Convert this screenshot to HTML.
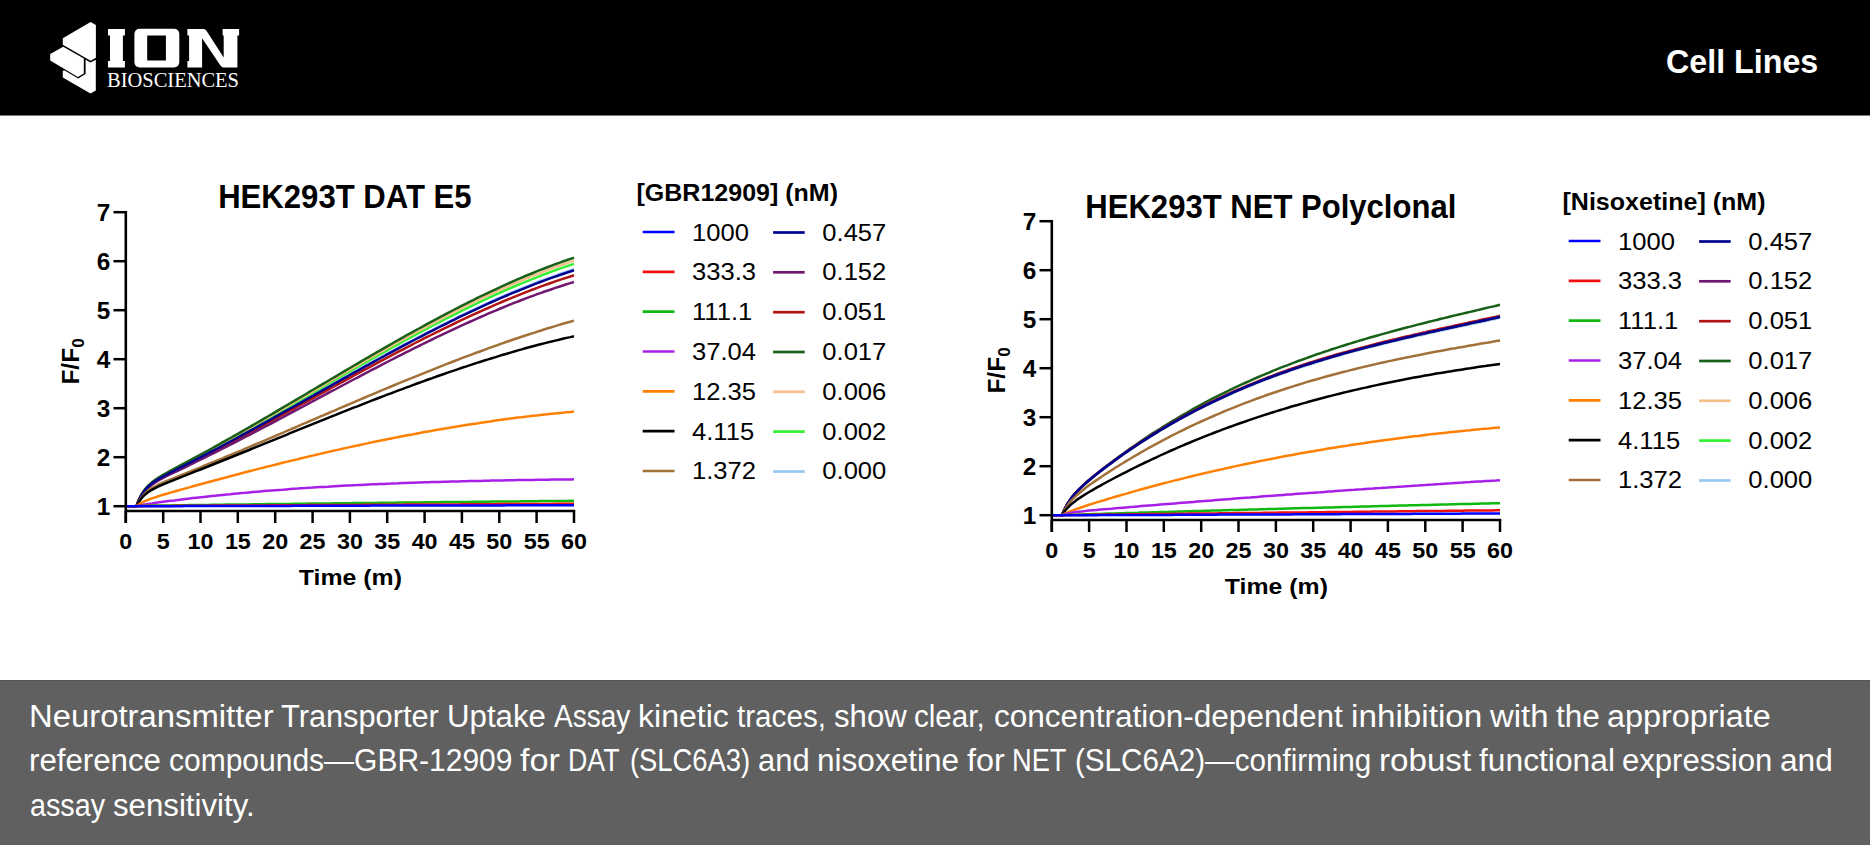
<!DOCTYPE html>
<html><head><meta charset="utf-8"><style>
*{margin:0;padding:0;box-sizing:border-box}
html,body{width:1870px;height:845px;overflow:hidden;background:#fff;font-family:"Liberation Sans",sans-serif}
#hdr{position:absolute;left:0;top:0;width:1870px;height:115px;background:#000}
#hdr2{position:absolute;left:0;top:115px;width:1870px;height:1px;background:#7a7a7a}
#cell{position:absolute;left:1666px;top:41.9px;font-size:33px;font-weight:bold;color:#fff;white-space:nowrap;line-height:40px;transform-origin:0 0;transform:scaleX(0.977)}
#cap{position:absolute;left:0;top:680px;width:1870px;height:165px;background:#606060}
#cap2{position:absolute;left:0;top:680px;width:1870px;height:1px;background:#565656}
.cw{position:absolute;color:#fff;font-size:31px;line-height:36px;white-space:nowrap;transform-origin:0 0}
svg text{font-family:"Liberation Sans",sans-serif}
</style></head><body>
<div id="hdr"></div><div id="hdr2"></div>
<svg width="260" height="115" viewBox="0 0 260 115" style="position:absolute;left:0;top:0">
<g fill="#fff">
<polygon points="90.6,22.0 95.9,25.0 95.9,57.8 90.6,60.8 62.8,44.7 62.8,38.3"/>
<polygon points="63.2,46.8 83.8,58.5 83.8,73.6 77.9,77.0 50.2,60.4 50.2,53.9"/>
<polygon points="62.8,70.8 62.8,77.6 90.5,93.6 95.8,90.5 95.8,59.8 90.5,62.4 85.6,59.8 85.6,73.9 78.2,78.4 64.7,70.4"/>
<path d="M108 29H124.9V35.6H122.9V60.9H124.9V67.5H108V60.9H110V35.6H108Z"/>
<path fill-rule="evenodd" d="M140.1 28.8H173.6Q179.3 28.8 179.3 34.5V61.8Q179.3 67.5 173.6 67.5H140.1Q134.4 67.5 134.4 61.8V34.5Q134.4 28.8 140.1 28.8ZM147.2 35.6V60.6H165.9V35.6Z"/>
<path d="M187.4 29.1H203.9Q205.3 29.1 206.3 30.6L223.7 57.5V35.6H222.6V29.1H239.1V35.6H237.4V67.4H223.2Q221.6 67.4 220.4 65.6L202.1 38.2V60.9H202.1V67.4H187.4V60.9H189.1V35.6H187.4Z"/>
</g>
<text x="107" y="87.3" style="font-family:'Liberation Serif',serif" font-size="20.7" textLength="132" lengthAdjust="spacingAndGlyphs" fill="#fff">BIOSCIENCES</text>
</svg>
<div id="cell">Cell Lines</div>
<svg width="1870" height="845" viewBox="0 0 1870 845" style="position:absolute;left:0;top:0">
<path d="M125.8 506.2L136.4 506.2L136.8 505.2L137.5 503.2L138.3 501.4L139.0 499.7L139.8 498.2L140.5 496.8L141.3 495.5L142.0 494.2L142.8 493.1L143.5 492.0L144.3 491.0L145.0 490.1L145.7 489.2L146.5 488.4L147.2 487.6L148.0 486.8L148.2 486.6L151.9 483.4L155.7 480.8L159.4 478.5L163.2 476.3L166.9 474.3L170.6 472.4L174.4 470.5L178.1 468.6L181.8 466.7L185.6 464.8L189.3 462.9L193.0 460.9L196.8 459.0L200.5 457.1L204.2 455.1L208.0 453.2L211.7 451.2L215.4 449.2L219.2 447.2L222.9 445.2L226.6 443.2L230.4 441.2L234.1 439.2L237.8 437.2L241.6 435.1L245.3 433.1L249.1 431.0L252.8 429.0L256.5 426.9L260.3 424.8L264.0 422.8L267.7 420.7L271.5 418.6L275.2 416.5L278.9 414.4L282.7 412.3L286.4 410.2L290.1 408.1L293.9 406.0L297.6 403.9L301.3 401.8L305.1 399.7L308.8 397.6L312.6 395.5L316.3 393.4L320.0 391.3L323.8 389.2L327.5 387.1L331.2 385.0L335.0 382.9L338.7 380.8L342.4 378.7L346.2 376.6L349.9 374.5L353.6 372.4L357.4 370.3L361.1 368.2L364.8 366.1L368.6 364.1L372.3 362.0L376.0 359.9L379.8 357.9L383.5 355.8L387.2 353.8L391.0 351.8L394.7 349.8L398.5 347.7L402.2 345.7L405.9 343.7L409.7 341.8L413.4 339.8L417.1 337.8L420.9 335.9L424.6 333.9L428.3 332.0L432.1 330.0L435.8 328.1L439.5 326.2L443.3 324.4L447.0 322.5L450.7 320.6L454.5 318.8L458.2 316.9L461.9 315.1L465.7 313.3L469.4 311.5L473.2 309.8L476.9 308.0L480.6 306.3L484.4 304.6L488.1 302.9L491.8 301.2L495.6 299.5L499.3 297.9L503.0 296.2L506.8 294.6L510.5 293.0L514.2 291.5L518.0 289.9L521.7 288.4L525.4 286.9L529.2 285.4L532.9 283.9L536.6 282.5L540.4 281.0L544.1 279.6L547.9 278.3L551.6 276.9L555.3 275.6L559.1 274.3L562.8 273.0L566.5 271.8L570.3 270.5L574.0 269.3" stroke="#99c8f5" stroke-width="2.5" fill="none" stroke-linejoin="round"/>
<path d="M125.8 506.2L136.4 506.2L136.8 505.1L137.5 503.1L138.3 501.3L139.0 499.6L139.8 498.0L140.5 496.6L141.3 495.2L142.0 494.0L142.8 492.8L143.5 491.7L144.3 490.7L145.0 489.7L145.7 488.8L146.5 488.0L147.2 487.2L148.0 486.4L148.2 486.2L151.9 482.9L155.7 480.2L159.4 477.8L163.2 475.7L166.9 473.6L170.6 471.6L174.4 469.6L178.1 467.7L181.8 465.8L185.6 463.8L189.3 461.9L193.0 459.9L196.8 457.9L200.5 455.9L204.2 454.0L208.0 451.9L211.7 449.9L215.4 447.9L219.2 445.9L222.9 443.8L226.6 441.8L230.4 439.7L234.1 437.7L237.8 435.6L241.6 433.5L245.3 431.4L249.1 429.3L252.8 427.2L256.5 425.1L260.3 423.0L264.0 420.8L267.7 418.7L271.5 416.6L275.2 414.5L278.9 412.3L282.7 410.2L286.4 408.0L290.1 405.9L293.9 403.7L297.6 401.6L301.3 399.4L305.1 397.3L308.8 395.1L312.6 392.9L316.3 390.8L320.0 388.6L323.8 386.5L327.5 384.3L331.2 382.2L335.0 380.0L338.7 377.9L342.4 375.7L346.2 373.6L349.9 371.4L353.6 369.3L357.4 367.2L361.1 365.0L364.8 362.9L368.6 360.8L372.3 358.7L376.0 356.6L379.8 354.5L383.5 352.4L387.2 350.3L391.0 348.2L394.7 346.1L398.5 344.1L402.2 342.0L405.9 340.0L409.7 338.0L413.4 335.9L417.1 333.9L420.9 331.9L424.6 329.9L428.3 328.0L432.1 326.0L435.8 324.0L439.5 322.1L443.3 320.2L447.0 318.2L450.7 316.3L454.5 314.5L458.2 312.6L461.9 310.7L465.7 308.9L469.4 307.1L473.2 305.2L476.9 303.4L480.6 301.7L484.4 299.9L488.1 298.2L491.8 296.4L495.6 294.7L499.3 293.1L503.0 291.4L506.8 289.7L510.5 288.1L514.2 286.5L518.0 284.9L521.7 283.3L525.4 281.8L529.2 280.3L532.9 278.8L536.6 277.3L540.4 275.9L544.1 274.4L547.9 273.0L551.6 271.6L555.3 270.3L559.1 268.9L562.8 267.6L566.5 266.4L570.3 265.1L574.0 263.9" stroke="#33f033" stroke-width="2.5" fill="none" stroke-linejoin="round"/>
<path d="M125.8 506.2L136.4 506.2L136.8 505.1L137.5 503.1L138.3 501.2L139.0 499.5L139.8 497.9L140.5 496.4L141.3 495.1L142.0 493.8L142.8 492.6L143.5 491.5L144.3 490.5L145.0 489.5L145.7 488.6L146.5 487.7L147.2 486.9L148.0 486.1L148.2 485.9L151.9 482.6L155.7 479.8L159.4 477.4L163.2 475.2L166.9 473.2L170.6 471.1L174.4 469.2L178.1 467.2L181.8 465.2L185.6 463.2L189.3 461.3L193.0 459.3L196.8 457.3L200.5 455.3L204.2 453.3L208.0 451.2L211.7 449.2L215.4 447.1L219.2 445.1L222.9 443.0L226.6 440.9L230.4 438.8L234.1 436.7L237.8 434.6L241.6 432.5L245.3 430.4L249.1 428.3L252.8 426.1L256.5 424.0L260.3 421.9L264.0 419.7L267.7 417.6L271.5 415.4L275.2 413.2L278.9 411.1L282.7 408.9L286.4 406.7L290.1 404.5L293.9 402.4L297.6 400.2L301.3 398.0L305.1 395.8L308.8 393.6L312.6 391.4L316.3 389.2L320.0 387.1L323.8 384.9L327.5 382.7L331.2 380.5L335.0 378.3L338.7 376.1L342.4 374.0L346.2 371.8L349.9 369.6L353.6 367.5L357.4 365.3L361.1 363.1L364.8 361.0L368.6 358.8L372.3 356.7L376.0 354.6L379.8 352.4L383.5 350.3L387.2 348.2L391.0 346.1L394.7 344.0L398.5 341.9L402.2 339.8L405.9 337.8L409.7 335.7L413.4 333.7L417.1 331.6L420.9 329.6L424.6 327.6L428.3 325.6L432.1 323.6L435.8 321.6L439.5 319.6L443.3 317.7L447.0 315.7L450.7 313.8L454.5 311.9L458.2 310.0L461.9 308.1L465.7 306.2L469.4 304.4L473.2 302.6L476.9 300.7L480.6 298.9L484.4 297.2L488.1 295.4L491.8 293.6L495.6 291.9L499.3 290.2L503.0 288.5L506.8 286.8L510.5 285.2L514.2 283.6L518.0 282.0L521.7 280.4L525.4 278.8L529.2 277.3L532.9 275.7L536.6 274.3L540.4 272.8L544.1 271.3L547.9 269.9L551.6 268.5L555.3 267.1L559.1 265.8L562.8 264.5L566.5 263.2L570.3 261.9L574.0 260.6" stroke="#f5c08a" stroke-width="2.5" fill="none" stroke-linejoin="round"/>
<path d="M125.8 506.2L136.4 506.2L136.8 505.1L137.5 503.1L138.3 501.2L139.0 499.4L139.8 497.8L140.5 496.3L141.3 494.9L142.0 493.7L142.8 492.5L143.5 491.3L144.3 490.3L145.0 489.3L145.7 488.4L146.5 487.5L147.2 486.7L148.0 485.9L148.2 485.7L151.9 482.3L155.7 479.5L159.4 477.1L163.2 474.9L166.9 472.8L170.6 470.7L174.4 468.7L178.1 466.7L181.8 464.7L185.6 462.7L189.3 460.7L193.0 458.7L196.8 456.7L200.5 454.7L204.2 452.6L208.0 450.6L211.7 448.5L215.4 446.4L219.2 444.3L222.9 442.2L226.6 440.1L230.4 438.0L234.1 435.9L237.8 433.8L241.6 431.6L245.3 429.5L249.1 427.3L252.8 425.2L256.5 423.0L260.3 420.8L264.0 418.7L267.7 416.5L271.5 414.3L275.2 412.1L278.9 409.9L282.7 407.7L286.4 405.5L290.1 403.3L293.9 401.1L297.6 398.9L301.3 396.7L305.1 394.5L308.8 392.2L312.6 390.0L316.3 387.8L320.0 385.6L323.8 383.4L327.5 381.2L331.2 379.0L335.0 376.8L338.7 374.6L342.4 372.4L346.2 370.2L349.9 368.0L353.6 365.8L357.4 363.6L361.1 361.4L364.8 359.2L368.6 357.1L372.3 354.9L376.0 352.7L379.8 350.6L383.5 348.4L387.2 346.3L391.0 344.2L394.7 342.0L398.5 339.9L402.2 337.8L405.9 335.7L409.7 333.6L413.4 331.6L417.1 329.5L420.9 327.5L424.6 325.4L428.3 323.4L432.1 321.4L435.8 319.4L439.5 317.4L443.3 315.4L447.0 313.4L450.7 311.5L454.5 309.5L458.2 307.6L461.9 305.7L465.7 303.8L469.4 301.9L473.2 300.1L476.9 298.2L480.6 296.4L484.4 294.6L488.1 292.8L491.8 291.1L495.6 289.3L499.3 287.6L503.0 285.9L506.8 284.2L510.5 282.5L514.2 280.9L518.0 279.2L521.7 277.6L525.4 276.0L529.2 274.5L532.9 273.0L536.6 271.4L540.4 269.9L544.1 268.5L547.9 267.0L551.6 265.6L555.3 264.2L559.1 262.9L562.8 261.5L566.5 260.2L570.3 258.9L574.0 257.7" stroke="#186018" stroke-width="2.5" fill="none" stroke-linejoin="round"/>
<path d="M125.8 506.2L136.4 506.2L136.8 505.2L137.5 503.3L138.3 501.5L139.0 499.9L139.8 498.4L140.5 497.0L141.3 495.7L142.0 494.5L142.8 493.4L143.5 492.4L144.3 491.4L145.0 490.5L145.7 489.6L146.5 488.8L147.2 488.1L148.0 487.3L148.2 487.1L151.9 484.0L155.7 481.4L159.4 479.2L163.2 477.1L166.9 475.1L170.6 473.2L174.4 471.4L178.1 469.5L181.8 467.7L185.6 465.8L189.3 463.9L193.0 462.1L196.8 460.2L200.5 458.3L204.2 456.4L208.0 454.5L211.7 452.6L215.4 450.7L219.2 448.7L222.9 446.8L226.6 444.8L230.4 442.9L234.1 440.9L237.8 438.9L241.6 436.9L245.3 434.9L249.1 432.9L252.8 430.9L256.5 428.9L260.3 426.9L264.0 424.9L267.7 422.8L271.5 420.8L275.2 418.8L278.9 416.7L282.7 414.7L286.4 412.7L290.1 410.6L293.9 408.6L297.6 406.5L301.3 404.4L305.1 402.4L308.8 400.3L312.6 398.3L316.3 396.2L320.0 394.2L323.8 392.1L327.5 390.1L331.2 388.0L335.0 386.0L338.7 383.9L342.4 381.9L346.2 379.8L349.9 377.8L353.6 375.7L357.4 373.7L361.1 371.7L364.8 369.7L368.6 367.6L372.3 365.6L376.0 363.6L379.8 361.6L383.5 359.6L387.2 357.6L391.0 355.7L394.7 353.7L398.5 351.7L402.2 349.8L405.9 347.8L409.7 345.9L413.4 344.0L417.1 342.0L420.9 340.1L424.6 338.2L428.3 336.4L432.1 334.5L435.8 332.6L439.5 330.8L443.3 328.9L447.0 327.1L450.7 325.3L454.5 323.5L458.2 321.7L461.9 319.9L465.7 318.2L469.4 316.4L473.2 314.7L476.9 313.0L480.6 311.3L484.4 309.6L488.1 308.0L491.8 306.3L495.6 304.7L499.3 303.1L503.0 301.5L506.8 299.9L510.5 298.4L514.2 296.9L518.0 295.4L521.7 293.9L525.4 292.4L529.2 290.9L532.9 289.5L536.6 288.1L540.4 286.7L544.1 285.4L547.9 284.0L551.6 282.7L555.3 281.4L559.1 280.1L562.8 278.9L566.5 277.7L570.3 276.5L574.0 275.3" stroke="#b01515" stroke-width="2.5" fill="none" stroke-linejoin="round"/>
<path d="M125.8 506.2L136.4 506.2L136.8 505.2L137.5 503.4L138.3 501.7L139.0 500.1L139.8 498.6L140.5 497.3L141.3 496.0L142.0 494.9L142.8 493.8L143.5 492.8L144.3 491.8L145.0 490.9L145.7 490.1L146.5 489.3L147.2 488.6L148.0 487.9L148.2 487.7L151.9 484.6L155.7 482.1L159.4 479.9L163.2 477.9L166.9 476.0L170.6 474.2L174.4 472.4L178.1 470.6L181.8 468.8L185.6 467.0L189.3 465.2L193.0 463.4L196.8 461.5L200.5 459.7L204.2 457.9L208.0 456.0L211.7 454.1L215.4 452.3L219.2 450.4L222.9 448.5L226.6 446.6L230.4 444.7L234.1 442.8L237.8 440.9L241.6 438.9L245.3 437.0L249.1 435.1L252.8 433.1L256.5 431.2L260.3 429.2L264.0 427.2L267.7 425.3L271.5 423.3L275.2 421.3L278.9 419.3L282.7 417.4L286.4 415.4L290.1 413.4L293.9 411.4L297.6 409.4L301.3 407.4L305.1 405.4L308.8 403.4L312.6 401.4L316.3 399.4L320.0 397.4L323.8 395.4L327.5 393.4L331.2 391.4L335.0 389.5L338.7 387.5L342.4 385.5L346.2 383.5L349.9 381.5L353.6 379.5L357.4 377.6L361.1 375.6L364.8 373.6L368.6 371.7L372.3 369.7L376.0 367.8L379.8 365.8L383.5 363.9L387.2 362.0L391.0 360.0L394.7 358.1L398.5 356.2L402.2 354.3L405.9 352.4L409.7 350.6L413.4 348.7L417.1 346.8L420.9 345.0L424.6 343.1L428.3 341.3L432.1 339.5L435.8 337.7L439.5 335.9L443.3 334.1L447.0 332.3L450.7 330.6L454.5 328.8L458.2 327.1L461.9 325.4L465.7 323.7L469.4 322.0L473.2 320.3L476.9 318.6L480.6 317.0L484.4 315.4L488.1 313.7L491.8 312.1L495.6 310.6L499.3 309.0L503.0 307.5L506.8 305.9L510.5 304.4L514.2 302.9L518.0 301.5L521.7 300.0L525.4 298.6L529.2 297.2L532.9 295.8L536.6 294.4L540.4 293.1L544.1 291.8L547.9 290.5L551.6 289.2L555.3 287.9L559.1 286.7L562.8 285.5L566.5 284.3L570.3 283.1L574.0 282.0" stroke="#701870" stroke-width="2.5" fill="none" stroke-linejoin="round"/>
<path d="M125.8 506.2L136.4 506.2L136.8 505.2L137.5 503.2L138.3 501.4L139.0 499.8L139.8 498.2L140.5 496.8L141.3 495.5L142.0 494.3L142.8 493.2L143.5 492.1L144.3 491.1L145.0 490.2L145.7 489.3L146.5 488.4L147.2 487.7L148.0 486.9L148.2 486.7L151.9 483.5L155.7 480.9L159.4 478.6L163.2 476.5L166.9 474.5L170.6 472.5L174.4 470.6L178.1 468.7L181.8 466.8L185.6 464.9L189.3 463.0L193.0 461.1L196.8 459.2L200.5 457.3L204.2 455.3L208.0 453.4L211.7 451.4L215.4 449.5L219.2 447.5L222.9 445.5L226.6 443.5L230.4 441.5L234.1 439.5L237.8 437.5L241.6 435.4L245.3 433.4L249.1 431.4L252.8 429.3L256.5 427.3L260.3 425.2L264.0 423.1L267.7 421.1L271.5 419.0L275.2 416.9L278.9 414.8L282.7 412.7L286.4 410.6L290.1 408.5L293.9 406.5L297.6 404.4L301.3 402.3L305.1 400.2L308.8 398.1L312.6 396.0L316.3 393.9L320.0 391.8L323.8 389.7L327.5 387.6L331.2 385.5L335.0 383.4L338.7 381.3L342.4 379.2L346.2 377.1L349.9 375.0L353.6 372.9L357.4 370.9L361.1 368.8L364.8 366.7L368.6 364.7L372.3 362.6L376.0 360.6L379.8 358.5L383.5 356.5L387.2 354.4L391.0 352.4L394.7 350.4L398.5 348.4L402.2 346.4L405.9 344.4L409.7 342.4L413.4 340.5L417.1 338.5L420.9 336.6L424.6 334.6L428.3 332.7L432.1 330.8L435.8 328.9L439.5 327.0L443.3 325.1L447.0 323.3L450.7 321.4L454.5 319.6L458.2 317.7L461.9 315.9L465.7 314.1L469.4 312.4L473.2 310.6L476.9 308.9L480.6 307.1L484.4 305.4L488.1 303.7L491.8 302.0L495.6 300.4L499.3 298.7L503.0 297.1L506.8 295.5L510.5 293.9L514.2 292.4L518.0 290.8L521.7 289.3L525.4 287.8L529.2 286.3L532.9 284.8L536.6 283.4L540.4 282.0L544.1 280.6L547.9 279.2L551.6 277.9L555.3 276.6L559.1 275.3L562.8 274.0L566.5 272.7L570.3 271.5L574.0 270.3" stroke="#000090" stroke-width="2.5" fill="none" stroke-linejoin="round"/>
<path d="M125.8 506.2L136.4 506.2L136.8 505.4L137.5 503.8L138.3 502.4L139.0 501.1L139.8 499.9L140.5 498.7L141.3 497.7L142.0 496.7L142.8 495.8L143.5 494.9L144.3 494.1L145.0 493.4L145.7 492.7L146.5 492.0L147.2 491.4L148.0 490.8L148.2 490.6L151.9 488.1L155.7 486.0L159.4 484.1L163.2 482.4L166.9 480.8L170.6 479.3L174.4 477.8L178.1 476.3L181.8 474.8L185.6 473.3L189.3 471.8L193.0 470.3L196.8 468.8L200.5 467.3L204.2 465.7L208.0 464.2L211.7 462.7L215.4 461.2L219.2 459.6L222.9 458.1L226.6 456.5L230.4 455.0L234.1 453.4L237.8 451.8L241.6 450.3L245.3 448.7L249.1 447.1L252.8 445.5L256.5 443.9L260.3 442.4L264.0 440.8L267.7 439.2L271.5 437.6L275.2 436.0L278.9 434.4L282.7 432.8L286.4 431.2L290.1 429.6L293.9 428.0L297.6 426.4L301.3 424.7L305.1 423.1L308.8 421.5L312.6 419.9L316.3 418.3L320.0 416.7L323.8 415.1L327.5 413.5L331.2 411.9L335.0 410.3L338.7 408.7L342.4 407.1L346.2 405.5L349.9 403.9L353.6 402.3L357.4 400.7L361.1 399.1L364.8 397.5L368.6 395.9L372.3 394.4L376.0 392.8L379.8 391.2L383.5 389.7L387.2 388.1L391.0 386.5L394.7 385.0L398.5 383.4L402.2 381.9L405.9 380.4L409.7 378.8L413.4 377.3L417.1 375.8L420.9 374.3L424.6 372.8L428.3 371.3L432.1 369.8L435.8 368.3L439.5 366.8L443.3 365.4L447.0 363.9L450.7 362.5L454.5 361.0L458.2 359.6L461.9 358.2L465.7 356.7L469.4 355.3L473.2 353.9L476.9 352.5L480.6 351.2L484.4 349.8L488.1 348.4L491.8 347.1L495.6 345.8L499.3 344.4L503.0 343.1L506.8 341.8L510.5 340.5L514.2 339.3L518.0 338.0L521.7 336.7L525.4 335.5L529.2 334.3L532.9 333.1L536.6 331.9L540.4 330.7L544.1 329.5L547.9 328.3L551.6 327.2L555.3 326.1L559.1 324.9L562.8 323.8L566.5 322.8L570.3 321.7L574.0 320.6" stroke="#a2713a" stroke-width="2.5" fill="none" stroke-linejoin="round"/>
<path d="M125.8 506.2L136.4 506.2L136.8 505.5L137.5 504.1L138.3 502.8L139.0 501.6L139.8 500.6L140.5 499.5L141.3 498.6L142.0 497.7L142.8 496.9L143.5 496.1L144.3 495.4L145.0 494.7L145.7 494.1L146.5 493.4L147.2 492.9L148.0 492.3L148.2 492.2L151.9 489.8L155.7 487.8L159.4 486.0L163.2 484.3L166.9 482.8L170.6 481.3L174.4 479.8L178.1 478.3L181.8 476.8L185.6 475.4L189.3 473.9L193.0 472.4L196.8 470.9L200.5 469.5L204.2 468.0L208.0 466.5L211.7 465.0L215.4 463.5L219.2 462.0L222.9 460.5L226.6 459.0L230.4 457.5L234.1 456.0L237.8 454.5L241.6 453.0L245.3 451.5L249.1 450.0L252.8 448.4L256.5 446.9L260.3 445.4L264.0 443.9L267.7 442.4L271.5 440.8L275.2 439.3L278.9 437.8L282.7 436.3L286.4 434.8L290.1 433.2L293.9 431.7L297.6 430.2L301.3 428.7L305.1 427.2L308.8 425.7L312.6 424.1L316.3 422.6L320.0 421.1L323.8 419.6L327.5 418.1L331.2 416.6L335.0 415.1L338.7 413.6L342.4 412.2L346.2 410.7L349.9 409.2L353.6 407.7L357.4 406.3L361.1 404.8L364.8 403.3L368.6 401.9L372.3 400.4L376.0 399.0L379.8 397.5L383.5 396.1L387.2 394.7L391.0 393.3L394.7 391.9L398.5 390.4L402.2 389.1L405.9 387.7L409.7 386.3L413.4 384.9L417.1 383.5L420.9 382.2L424.6 380.8L428.3 379.5L432.1 378.2L435.8 376.8L439.5 375.5L443.3 374.2L447.0 372.9L450.7 371.6L454.5 370.4L458.2 369.1L461.9 367.8L465.7 366.6L469.4 365.4L473.2 364.1L476.9 362.9L480.6 361.7L484.4 360.5L488.1 359.4L491.8 358.2L495.6 357.1L499.3 355.9L503.0 354.8L506.8 353.7L510.5 352.6L514.2 351.5L518.0 350.4L521.7 349.4L525.4 348.3L529.2 347.3L532.9 346.3L536.6 345.3L540.4 344.3L544.1 343.4L547.9 342.4L551.6 341.5L555.3 340.6L559.1 339.7L562.8 338.8L566.5 337.9L570.3 337.1L574.0 336.2" stroke="#000000" stroke-width="2.5" fill="none" stroke-linejoin="round"/>
<path d="M125.8 506.2L136.4 506.2L136.8 505.9L137.5 505.3L138.3 504.8L139.0 504.3L139.8 503.8L140.5 503.4L141.3 503.0L142.0 502.5L142.8 502.2L143.5 501.8L144.3 501.4L145.0 501.1L145.7 500.8L146.5 500.4L147.2 500.1L148.0 499.8L148.2 499.7L151.9 498.4L155.7 497.1L159.4 495.9L163.2 494.8L166.9 493.7L170.6 492.6L174.4 491.5L178.1 490.5L181.8 489.4L185.6 488.4L189.3 487.4L193.0 486.3L196.8 485.3L200.5 484.3L204.2 483.2L208.0 482.2L211.7 481.2L215.4 480.2L219.2 479.2L222.9 478.2L226.6 477.2L230.4 476.2L234.1 475.2L237.8 474.2L241.6 473.3L245.3 472.3L249.1 471.3L252.8 470.4L256.5 469.4L260.3 468.4L264.0 467.5L267.7 466.5L271.5 465.6L275.2 464.7L278.9 463.7L282.7 462.8L286.4 461.9L290.1 461.0L293.9 460.1L297.6 459.2L301.3 458.3L305.1 457.4L308.8 456.5L312.6 455.6L316.3 454.7L320.0 453.9L323.8 453.0L327.5 452.1L331.2 451.3L335.0 450.4L338.7 449.6L342.4 448.8L346.2 447.9L349.9 447.1L353.6 446.3L357.4 445.5L361.1 444.7L364.8 443.9L368.6 443.1L372.3 442.3L376.0 441.6L379.8 440.8L383.5 440.0L387.2 439.3L391.0 438.5L394.7 437.8L398.5 437.0L402.2 436.3L405.9 435.6L409.7 434.9L413.4 434.2L417.1 433.5L420.9 432.8L424.6 432.1L428.3 431.4L432.1 430.8L435.8 430.1L439.5 429.5L443.3 428.8L447.0 428.2L450.7 427.5L454.5 426.9L458.2 426.3L461.9 425.7L465.7 425.1L469.4 424.5L473.2 423.9L476.9 423.4L480.6 422.8L484.4 422.3L488.1 421.7L491.8 421.2L495.6 420.6L499.3 420.1L503.0 419.6L506.8 419.1L510.5 418.6L514.2 418.1L518.0 417.6L521.7 417.2L525.4 416.7L529.2 416.3L532.9 415.8L536.6 415.4L540.4 415.0L544.1 414.6L547.9 414.2L551.6 413.8L555.3 413.4L559.1 413.0L562.8 412.7L566.5 412.3L570.3 412.0L574.0 411.6" stroke="#ff8000" stroke-width="2.5" fill="none" stroke-linejoin="round"/>
<path d="M125.8 506.2L136.4 506.2L136.8 506.1L137.5 505.9L138.3 505.8L139.0 505.6L139.8 505.5L140.5 505.3L141.3 505.2L142.0 505.0L142.8 504.9L143.5 504.7L144.3 504.6L145.0 504.5L145.7 504.4L146.5 504.2L147.2 504.1L148.0 504.0L148.2 503.9L151.9 503.4L155.7 502.8L159.4 502.3L163.2 501.8L166.9 501.3L170.6 500.8L174.4 500.4L178.1 499.9L181.8 499.4L185.6 499.0L189.3 498.6L193.0 498.1L196.8 497.7L200.5 497.3L204.2 496.9L208.0 496.5L211.7 496.1L215.4 495.7L219.2 495.3L222.9 494.9L226.6 494.5L230.4 494.2L234.1 493.8L237.8 493.4L241.6 493.1L245.3 492.8L249.1 492.4L252.8 492.1L256.5 491.8L260.3 491.4L264.0 491.1L267.7 490.8L271.5 490.5L275.2 490.2L278.9 489.9L282.7 489.7L286.4 489.4L290.1 489.1L293.9 488.8L297.6 488.6L301.3 488.3L305.1 488.1L308.8 487.8L312.6 487.6L316.3 487.3L320.0 487.1L323.8 486.9L327.5 486.7L331.2 486.4L335.0 486.2L338.7 486.0L342.4 485.8L346.2 485.6L349.9 485.4L353.6 485.2L357.4 485.1L361.1 484.9L364.8 484.7L368.6 484.5L372.3 484.3L376.0 484.2L379.8 484.0L383.5 483.9L387.2 483.7L391.0 483.6L394.7 483.4L398.5 483.3L402.2 483.1L405.9 483.0L409.7 482.8L413.4 482.7L417.1 482.6L420.9 482.5L424.6 482.3L428.3 482.2L432.1 482.1L435.8 482.0L439.5 481.9L443.3 481.8L447.0 481.7L450.7 481.6L454.5 481.5L458.2 481.4L461.9 481.3L465.7 481.2L469.4 481.1L473.2 481.0L476.9 480.9L480.6 480.9L484.4 480.8L488.1 480.7L491.8 480.6L495.6 480.5L499.3 480.5L503.0 480.4L506.8 480.3L510.5 480.3L514.2 480.2L518.0 480.1L521.7 480.1L525.4 480.0L529.2 480.0L532.9 479.9L536.6 479.8L540.4 479.8L544.1 479.7L547.9 479.7L551.6 479.6L555.3 479.6L559.1 479.5L562.8 479.5L566.5 479.4L570.3 479.4L574.0 479.3" stroke="#a820e8" stroke-width="2.5" fill="none" stroke-linejoin="round"/>
<path d="M125.8 506.2L136.4 506.2L136.8 506.2L137.5 506.1L138.3 506.1L139.0 506.0L139.8 506.0L140.5 506.0L141.3 505.9L142.0 505.9L142.8 505.9L143.5 505.9L144.3 505.8L145.0 505.8L145.7 505.8L146.5 505.8L147.2 505.8L148.0 505.7L148.2 505.7L151.9 505.6L155.7 505.6L159.4 505.5L163.2 505.5L166.9 505.4L170.6 505.4L174.4 505.3L178.1 505.3L181.8 505.2L185.6 505.2L189.3 505.1L193.0 505.1L196.8 505.0L200.5 505.0L204.2 504.9L208.0 504.9L211.7 504.8L215.4 504.8L219.2 504.7L222.9 504.7L226.6 504.6L230.4 504.6L234.1 504.5L237.8 504.5L241.6 504.5L245.3 504.4L249.1 504.4L252.8 504.3L256.5 504.3L260.3 504.2L264.0 504.2L267.7 504.1L271.5 504.1L275.2 504.0L278.9 504.0L282.7 504.0L286.4 503.9L290.1 503.9L293.9 503.8L297.6 503.8L301.3 503.7L305.1 503.7L308.8 503.6L312.6 503.6L316.3 503.6L320.0 503.5L323.8 503.5L327.5 503.4L331.2 503.4L335.0 503.3L338.7 503.3L342.4 503.3L346.2 503.2L349.9 503.2L353.6 503.1L357.4 503.1L361.1 503.0L364.8 503.0L368.6 503.0L372.3 502.9L376.0 502.9L379.8 502.8L383.5 502.8L387.2 502.7L391.0 502.7L394.7 502.7L398.5 502.6L402.2 502.6L405.9 502.5L409.7 502.5L413.4 502.5L417.1 502.4L420.9 502.4L424.6 502.3L428.3 502.3L432.1 502.3L435.8 502.2L439.5 502.2L443.3 502.1L447.0 502.1L450.7 502.1L454.5 502.0L458.2 502.0L461.9 501.9L465.7 501.9L469.4 501.9L473.2 501.8L476.9 501.8L480.6 501.7L484.4 501.7L488.1 501.7L491.8 501.6L495.6 501.6L499.3 501.5L503.0 501.5L506.8 501.5L510.5 501.4L514.2 501.4L518.0 501.4L521.7 501.3L525.4 501.3L529.2 501.2L532.9 501.2L536.6 501.2L540.4 501.1L544.1 501.1L547.9 501.1L551.6 501.0L555.3 501.0L559.1 500.9L562.8 500.9L566.5 500.9L570.3 500.8L574.0 500.8" stroke="#10b810" stroke-width="2.5" fill="none" stroke-linejoin="round"/>
<path d="M125.8 506.2L136.4 506.2L136.8 506.2L137.5 506.2L138.3 506.2L139.0 506.1L139.8 506.1L140.5 506.1L141.3 506.1L142.0 506.1L142.8 506.1L143.5 506.1L144.3 506.1L145.0 506.0L145.7 506.0L146.5 506.0L147.2 506.0L148.0 506.0L148.2 506.0L151.9 506.0L155.7 506.0L159.4 505.9L163.2 505.9L166.9 505.9L170.6 505.9L174.4 505.8L178.1 505.8L181.8 505.8L185.6 505.8L189.3 505.8L193.0 505.7L196.8 505.7L200.5 505.7L204.2 505.7L208.0 505.7L211.7 505.6L215.4 505.6L219.2 505.6L222.9 505.6L226.6 505.6L230.4 505.6L234.1 505.5L237.8 505.5L241.6 505.5L245.3 505.5L249.1 505.5L252.8 505.4L256.5 505.4L260.3 505.4L264.0 505.4L267.7 505.4L271.5 505.3L275.2 505.3L278.9 505.3L282.7 505.3L286.4 505.3L290.1 505.2L293.9 505.2L297.6 505.2L301.3 505.2L305.1 505.2L308.8 505.1L312.6 505.1L316.3 505.1L320.0 505.1L323.8 505.1L327.5 505.0L331.2 505.0L335.0 505.0L338.7 505.0L342.4 505.0L346.2 504.9L349.9 504.9L353.6 504.9L357.4 504.9L361.1 504.9L364.8 504.8L368.6 504.8L372.3 504.8L376.0 504.8L379.8 504.8L383.5 504.8L387.2 504.7L391.0 504.7L394.7 504.7L398.5 504.7L402.2 504.7L405.9 504.6L409.7 504.6L413.4 504.6L417.1 504.6L420.9 504.6L424.6 504.5L428.3 504.5L432.1 504.5L435.8 504.5L439.5 504.5L443.3 504.4L447.0 504.4L450.7 504.4L454.5 504.4L458.2 504.4L461.9 504.3L465.7 504.3L469.4 504.3L473.2 504.3L476.9 504.3L480.6 504.2L484.4 504.2L488.1 504.2L491.8 504.2L495.6 504.2L499.3 504.1L503.0 504.1L506.8 504.1L510.5 504.1L514.2 504.1L518.0 504.0L521.7 504.0L525.4 504.0L529.2 504.0L532.9 504.0L536.6 503.9L540.4 503.9L544.1 503.9L547.9 503.9L551.6 503.9L555.3 503.8L559.1 503.8L562.8 503.8L566.5 503.8L570.3 503.8L574.0 503.7" stroke="#f01010" stroke-width="2.5" fill="none" stroke-linejoin="round"/>
<path d="M125.8 506.2L136.4 506.2L136.8 506.2L137.5 506.2L138.3 506.2L139.0 506.2L139.8 506.2L140.5 506.2L141.3 506.2L142.0 506.2L142.8 506.2L143.5 506.2L144.3 506.2L145.0 506.2L145.7 506.2L146.5 506.2L147.2 506.2L148.0 506.2L148.2 506.2L151.9 506.2L155.7 506.2L159.4 506.2L163.2 506.2L166.9 506.2L170.6 506.2L174.4 506.2L178.1 506.2L181.8 506.2L185.6 506.1L189.3 506.1L193.0 506.1L196.8 506.1L200.5 506.1L204.2 506.1L208.0 506.1L211.7 506.1L215.4 506.1L219.2 506.0L222.9 506.0L226.6 506.0L230.4 506.0L234.1 506.0L237.8 506.0L241.6 506.0L245.3 506.0L249.1 506.0L252.8 506.0L256.5 505.9L260.3 505.9L264.0 505.9L267.7 505.9L271.5 505.9L275.2 505.9L278.9 505.9L282.7 505.9L286.4 505.9L290.1 505.9L293.9 505.8L297.6 505.8L301.3 505.8L305.1 505.8L308.8 505.8L312.6 505.8L316.3 505.8L320.0 505.8L323.8 505.8L327.5 505.8L331.2 505.7L335.0 505.7L338.7 505.7L342.4 505.7L346.2 505.7L349.9 505.7L353.6 505.7L357.4 505.7L361.1 505.7L364.8 505.7L368.6 505.7L372.3 505.6L376.0 505.6L379.8 505.6L383.5 505.6L387.2 505.6L391.0 505.6L394.7 505.6L398.5 505.6L402.2 505.6L405.9 505.6L409.7 505.6L413.4 505.6L417.1 505.5L420.9 505.5L424.6 505.5L428.3 505.5L432.1 505.5L435.8 505.5L439.5 505.5L443.3 505.5L447.0 505.5L450.7 505.5L454.5 505.5L458.2 505.5L461.9 505.4L465.7 505.4L469.4 505.4L473.2 505.4L476.9 505.4L480.6 505.4L484.4 505.4L488.1 505.4L491.8 505.4L495.6 505.4L499.3 505.4L503.0 505.4L506.8 505.3L510.5 505.3L514.2 505.3L518.0 505.3L521.7 505.3L525.4 505.3L529.2 505.3L532.9 505.3L536.6 505.3L540.4 505.3L544.1 505.3L547.9 505.3L551.6 505.3L555.3 505.3L559.1 505.2L562.8 505.2L566.5 505.2L570.3 505.2L574.0 505.2" stroke="#0000ff" stroke-width="2.5" fill="none" stroke-linejoin="round"/>
<path d="M125.8 211.0V523.0" stroke="#000" stroke-width="2.6" fill="none"/>
<path d="M125.8 511.0H575.2" stroke="#000" stroke-width="2.5" fill="none"/>
<path d="M113.5 506.2H125.8" stroke="#000" stroke-width="2.5"/>
<text transform="translate(110.30 514.50) scale(1.050 1)" font-size="23.20" font-weight="bold" text-anchor="end" fill="#000">1</text>
<path d="M113.5 457.2H125.8" stroke="#000" stroke-width="2.5"/>
<text transform="translate(110.30 465.50) scale(1.050 1)" font-size="23.20" font-weight="bold" text-anchor="end" fill="#000">2</text>
<path d="M113.5 408.2H125.8" stroke="#000" stroke-width="2.5"/>
<text transform="translate(110.30 416.50) scale(1.050 1)" font-size="23.20" font-weight="bold" text-anchor="end" fill="#000">3</text>
<path d="M113.5 359.2H125.8" stroke="#000" stroke-width="2.5"/>
<text transform="translate(110.30 367.50) scale(1.050 1)" font-size="23.20" font-weight="bold" text-anchor="end" fill="#000">4</text>
<path d="M113.5 310.2H125.8" stroke="#000" stroke-width="2.5"/>
<text transform="translate(110.30 318.50) scale(1.050 1)" font-size="23.20" font-weight="bold" text-anchor="end" fill="#000">5</text>
<path d="M113.5 261.2H125.8" stroke="#000" stroke-width="2.5"/>
<text transform="translate(110.30 269.50) scale(1.050 1)" font-size="23.20" font-weight="bold" text-anchor="end" fill="#000">6</text>
<path d="M113.5 212.2H125.8" stroke="#000" stroke-width="2.5"/>
<text transform="translate(110.30 220.50) scale(1.050 1)" font-size="23.20" font-weight="bold" text-anchor="end" fill="#000">7</text>
<path d="M125.8 511.0V523.0" stroke="#000" stroke-width="2.5"/>
<text transform="translate(125.80 548.60) scale(1.080 1)" font-size="21.60" font-weight="bold" text-anchor="middle" fill="#000">0</text>
<path d="M163.2 511.0V523.0" stroke="#000" stroke-width="2.5"/>
<text transform="translate(163.15 548.60) scale(1.080 1)" font-size="21.60" font-weight="bold" text-anchor="middle" fill="#000">5</text>
<path d="M200.5 511.0V523.0" stroke="#000" stroke-width="2.5"/>
<text transform="translate(200.50 548.60) scale(1.080 1)" font-size="21.60" font-weight="bold" text-anchor="middle" fill="#000">10</text>
<path d="M237.8 511.0V523.0" stroke="#000" stroke-width="2.5"/>
<text transform="translate(237.85 548.60) scale(1.080 1)" font-size="21.60" font-weight="bold" text-anchor="middle" fill="#000">15</text>
<path d="M275.2 511.0V523.0" stroke="#000" stroke-width="2.5"/>
<text transform="translate(275.20 548.60) scale(1.080 1)" font-size="21.60" font-weight="bold" text-anchor="middle" fill="#000">20</text>
<path d="M312.6 511.0V523.0" stroke="#000" stroke-width="2.5"/>
<text transform="translate(312.55 548.60) scale(1.080 1)" font-size="21.60" font-weight="bold" text-anchor="middle" fill="#000">25</text>
<path d="M349.9 511.0V523.0" stroke="#000" stroke-width="2.5"/>
<text transform="translate(349.90 548.60) scale(1.080 1)" font-size="21.60" font-weight="bold" text-anchor="middle" fill="#000">30</text>
<path d="M387.2 511.0V523.0" stroke="#000" stroke-width="2.5"/>
<text transform="translate(387.25 548.60) scale(1.080 1)" font-size="21.60" font-weight="bold" text-anchor="middle" fill="#000">35</text>
<path d="M424.6 511.0V523.0" stroke="#000" stroke-width="2.5"/>
<text transform="translate(424.60 548.60) scale(1.080 1)" font-size="21.60" font-weight="bold" text-anchor="middle" fill="#000">40</text>
<path d="M461.9 511.0V523.0" stroke="#000" stroke-width="2.5"/>
<text transform="translate(461.95 548.60) scale(1.080 1)" font-size="21.60" font-weight="bold" text-anchor="middle" fill="#000">45</text>
<path d="M499.3 511.0V523.0" stroke="#000" stroke-width="2.5"/>
<text transform="translate(499.30 548.60) scale(1.080 1)" font-size="21.60" font-weight="bold" text-anchor="middle" fill="#000">50</text>
<path d="M536.6 511.0V523.0" stroke="#000" stroke-width="2.5"/>
<text transform="translate(536.65 548.60) scale(1.080 1)" font-size="21.60" font-weight="bold" text-anchor="middle" fill="#000">55</text>
<path d="M574.0 511.0V523.0" stroke="#000" stroke-width="2.5"/>
<text transform="translate(574.00 548.60) scale(1.080 1)" font-size="21.60" font-weight="bold" text-anchor="middle" fill="#000">60</text>
<text transform="translate(350.40 584.70) scale(1.115 1)" font-size="22.30" font-weight="bold" text-anchor="middle" fill="#000">Time (m)</text>
<text transform="translate(79.4 384.6) rotate(-90)" font-size="24.5" font-weight="bold" fill="#000">F/F<tspan font-size="17" dy="4.8">0</tspan></text>
<text x="344.9" y="207.9" font-size="32.5" font-weight="bold" text-anchor="middle" textLength="253.5" lengthAdjust="spacingAndGlyphs" fill="#000">HEK293T DAT E5</text>
<text x="636.5" y="201.4" font-size="23" font-weight="bold" textLength="201.5" lengthAdjust="spacingAndGlyphs" fill="#000">[GBR12909] (nM)</text>
<path d="M642.7 232.0H674.5" stroke="#0000ff" stroke-width="2.7"/>
<text transform="translate(692.00 240.50) scale(1.080 1)" font-size="23.70" font-weight="normal" text-anchor="start" fill="#000">1000</text>
<path d="M773.1 232.5H804.7" stroke="#000090" stroke-width="2.7"/>
<text transform="translate(822.30 240.50) scale(1.080 1)" font-size="23.70" font-weight="normal" text-anchor="start" fill="#000">0.457</text>
<path d="M642.7 271.8H674.5" stroke="#f01010" stroke-width="2.7"/>
<text transform="translate(692.00 280.33) scale(1.080 1)" font-size="23.70" font-weight="normal" text-anchor="start" fill="#000">333.3</text>
<path d="M773.1 272.3H804.7" stroke="#701870" stroke-width="2.7"/>
<text transform="translate(822.30 280.33) scale(1.080 1)" font-size="23.70" font-weight="normal" text-anchor="start" fill="#000">0.152</text>
<path d="M642.7 311.7H674.5" stroke="#10b810" stroke-width="2.7"/>
<text transform="translate(692.00 320.16) scale(1.080 1)" font-size="23.70" font-weight="normal" text-anchor="start" fill="#000">111.1</text>
<path d="M773.1 312.2H804.7" stroke="#b01515" stroke-width="2.7"/>
<text transform="translate(822.30 320.16) scale(1.080 1)" font-size="23.70" font-weight="normal" text-anchor="start" fill="#000">0.051</text>
<path d="M642.7 351.5H674.5" stroke="#a820e8" stroke-width="2.7"/>
<text transform="translate(692.00 359.99) scale(1.080 1)" font-size="23.70" font-weight="normal" text-anchor="start" fill="#000">37.04</text>
<path d="M773.1 352.0H804.7" stroke="#186018" stroke-width="2.7"/>
<text transform="translate(822.30 359.99) scale(1.080 1)" font-size="23.70" font-weight="normal" text-anchor="start" fill="#000">0.017</text>
<path d="M642.7 391.3H674.5" stroke="#ff8000" stroke-width="2.7"/>
<text transform="translate(692.00 399.82) scale(1.080 1)" font-size="23.70" font-weight="normal" text-anchor="start" fill="#000">12.35</text>
<path d="M773.1 391.8H804.7" stroke="#f5c08a" stroke-width="2.7"/>
<text transform="translate(822.30 399.82) scale(1.080 1)" font-size="23.70" font-weight="normal" text-anchor="start" fill="#000">0.006</text>
<path d="M642.7 431.1H674.5" stroke="#000000" stroke-width="2.7"/>
<text transform="translate(692.00 439.65) scale(1.080 1)" font-size="23.70" font-weight="normal" text-anchor="start" fill="#000">4.115</text>
<path d="M773.1 431.6H804.7" stroke="#33f033" stroke-width="2.7"/>
<text transform="translate(822.30 439.65) scale(1.080 1)" font-size="23.70" font-weight="normal" text-anchor="start" fill="#000">0.002</text>
<path d="M642.7 471.0H674.5" stroke="#a2713a" stroke-width="2.7"/>
<text transform="translate(692.00 479.48) scale(1.080 1)" font-size="23.70" font-weight="normal" text-anchor="start" fill="#000">1.372</text>
<path d="M773.1 471.5H804.7" stroke="#99c8f5" stroke-width="2.7"/>
<text transform="translate(822.30 479.48) scale(1.080 1)" font-size="23.70" font-weight="normal" text-anchor="start" fill="#000">0.000</text>
<path d="M1051.8 515.2L1062.0 515.2L1062.3 514.3L1063.1 512.5L1063.8 510.8L1064.6 509.2L1065.3 507.8L1066.1 506.4L1066.8 505.0L1067.6 503.8L1068.3 502.6L1069.1 501.4L1069.8 500.3L1070.5 499.3L1071.3 498.3L1072.0 497.3L1072.8 496.4L1073.5 495.5L1074.2 494.7L1077.9 490.6L1081.7 486.9L1085.4 483.6L1089.1 480.3L1092.9 477.3L1096.6 474.3L1100.4 471.4L1104.1 468.5L1107.8 465.7L1111.6 463.0L1115.3 460.2L1119.0 457.6L1122.8 454.9L1126.5 452.4L1130.2 449.8L1134.0 447.3L1137.7 444.8L1141.4 442.4L1145.2 440.0L1148.9 437.6L1152.6 435.3L1156.4 433.0L1160.1 430.8L1163.8 428.5L1167.6 426.3L1171.3 424.2L1175.1 422.1L1178.8 420.0L1182.5 417.9L1186.3 415.9L1190.0 413.9L1193.7 412.0L1197.5 410.0L1201.2 408.1L1204.9 406.3L1208.7 404.4L1212.4 402.6L1216.1 400.8L1219.9 399.1L1223.6 397.4L1227.3 395.7L1231.1 394.0L1234.8 392.4L1238.5 390.7L1242.3 389.1L1246.0 387.6L1249.8 386.0L1253.5 384.5L1257.2 383.0L1261.0 381.6L1264.7 380.1L1268.4 378.7L1272.2 377.3L1275.9 375.9L1279.6 374.6L1283.4 373.2L1287.1 371.9L1290.8 370.6L1294.6 369.4L1298.3 368.1L1302.0 366.9L1305.8 365.7L1309.5 364.5L1313.2 363.3L1317.0 362.1L1320.7 361.0L1324.5 359.9L1328.2 358.7L1331.9 357.6L1335.7 356.6L1339.4 355.5L1343.1 354.4L1346.9 353.4L1350.6 352.4L1354.3 351.4L1358.1 350.4L1361.8 349.4L1365.5 348.4L1369.3 347.5L1373.0 346.5L1376.7 345.6L1380.5 344.7L1384.2 343.7L1387.9 342.8L1391.7 341.9L1395.4 341.0L1399.2 340.2L1402.9 339.3L1406.6 338.4L1410.4 337.5L1414.1 336.7L1417.8 335.8L1421.6 335.0L1425.3 334.2L1429.0 333.3L1432.8 332.5L1436.5 331.7L1440.2 330.9L1444.0 330.1L1447.7 329.2L1451.4 328.4L1455.2 327.6L1458.9 326.8L1462.6 326.0L1466.4 325.2L1470.1 324.4L1473.9 323.6L1477.6 322.8L1481.3 322.0L1485.1 321.2L1488.8 320.4L1492.5 319.5L1496.3 318.7L1500.0 317.9" stroke="#99c8f5" stroke-width="2.5" fill="none" stroke-linejoin="round"/>
<path d="M1051.8 515.2L1062.0 515.2L1062.3 514.3L1063.1 512.5L1063.8 510.8L1064.6 509.2L1065.3 507.7L1066.1 506.3L1066.8 505.0L1067.6 503.7L1068.3 502.5L1069.1 501.4L1069.8 500.3L1070.5 499.2L1071.3 498.2L1072.0 497.2L1072.8 496.3L1073.5 495.4L1074.2 494.6L1077.9 490.5L1081.7 486.8L1085.4 483.4L1089.1 480.2L1092.9 477.1L1096.6 474.1L1100.4 471.1L1104.1 468.3L1107.8 465.5L1111.6 462.7L1115.3 460.0L1119.0 457.3L1122.8 454.6L1126.5 452.0L1130.2 449.5L1134.0 447.0L1137.7 444.5L1141.4 442.0L1145.2 439.6L1148.9 437.2L1152.6 434.9L1156.4 432.6L1160.1 430.3L1163.8 428.1L1167.6 425.9L1171.3 423.7L1175.1 421.6L1178.8 419.5L1182.5 417.4L1186.3 415.4L1190.0 413.4L1193.7 411.4L1197.5 409.5L1201.2 407.6L1204.9 405.7L1208.7 403.9L1212.4 402.1L1216.1 400.3L1219.9 398.5L1223.6 396.8L1227.3 395.1L1231.1 393.4L1234.8 391.7L1238.5 390.1L1242.3 388.5L1246.0 386.9L1249.8 385.4L1253.5 383.9L1257.2 382.4L1261.0 380.9L1264.7 379.4L1268.4 378.0L1272.2 376.6L1275.9 375.2L1279.6 373.9L1283.4 372.5L1287.1 371.2L1290.8 369.9L1294.6 368.6L1298.3 367.4L1302.0 366.1L1305.8 364.9L1309.5 363.7L1313.2 362.5L1317.0 361.4L1320.7 360.2L1324.5 359.1L1328.2 358.0L1331.9 356.9L1335.7 355.8L1339.4 354.7L1343.1 353.6L1346.9 352.6L1350.6 351.6L1354.3 350.6L1358.1 349.6L1361.8 348.6L1365.5 347.6L1369.3 346.6L1373.0 345.7L1376.7 344.7L1380.5 343.8L1384.2 342.9L1387.9 342.0L1391.7 341.1L1395.4 340.2L1399.2 339.3L1402.9 338.4L1406.6 337.5L1410.4 336.7L1414.1 335.8L1417.8 334.9L1421.6 334.1L1425.3 333.3L1429.0 332.4L1432.8 331.6L1436.5 330.8L1440.2 329.9L1444.0 329.1L1447.7 328.3L1451.4 327.5L1455.2 326.7L1458.9 325.9L1462.6 325.1L1466.4 324.2L1470.1 323.4L1473.9 322.6L1477.6 321.8L1481.3 321.0L1485.1 320.2L1488.8 319.4L1492.5 318.6L1496.3 317.7L1500.0 316.9" stroke="#33f033" stroke-width="2.5" fill="none" stroke-linejoin="round"/>
<path d="M1051.8 515.2L1062.0 515.2L1062.3 514.3L1063.1 512.5L1063.8 510.8L1064.6 509.2L1065.3 507.7L1066.1 506.3L1066.8 505.0L1067.6 503.7L1068.3 502.5L1069.1 501.4L1069.8 500.3L1070.5 499.2L1071.3 498.2L1072.0 497.2L1072.8 496.3L1073.5 495.4L1074.2 494.6L1077.9 490.5L1081.7 486.8L1085.4 483.4L1089.1 480.2L1092.9 477.1L1096.6 474.1L1100.4 471.1L1104.1 468.3L1107.8 465.5L1111.6 462.7L1115.3 460.0L1119.0 457.3L1122.8 454.6L1126.5 452.0L1130.2 449.5L1134.0 447.0L1137.7 444.5L1141.4 442.0L1145.2 439.6L1148.9 437.2L1152.6 434.9L1156.4 432.6L1160.1 430.3L1163.8 428.1L1167.6 425.9L1171.3 423.7L1175.1 421.6L1178.8 419.5L1182.5 417.4L1186.3 415.4L1190.0 413.4L1193.7 411.4L1197.5 409.5L1201.2 407.6L1204.9 405.7L1208.7 403.9L1212.4 402.1L1216.1 400.3L1219.9 398.5L1223.6 396.8L1227.3 395.1L1231.1 393.4L1234.8 391.7L1238.5 390.1L1242.3 388.5L1246.0 386.9L1249.8 385.4L1253.5 383.9L1257.2 382.4L1261.0 380.9L1264.7 379.4L1268.4 378.0L1272.2 376.6L1275.9 375.2L1279.6 373.9L1283.4 372.5L1287.1 371.2L1290.8 369.9L1294.6 368.6L1298.3 367.4L1302.0 366.1L1305.8 364.9L1309.5 363.7L1313.2 362.5L1317.0 361.4L1320.7 360.2L1324.5 359.1L1328.2 358.0L1331.9 356.9L1335.7 355.8L1339.4 354.7L1343.1 353.6L1346.9 352.6L1350.6 351.6L1354.3 350.6L1358.1 349.6L1361.8 348.6L1365.5 347.6L1369.3 346.6L1373.0 345.7L1376.7 344.7L1380.5 343.8L1384.2 342.9L1387.9 342.0L1391.7 341.1L1395.4 340.2L1399.2 339.3L1402.9 338.4L1406.6 337.5L1410.4 336.7L1414.1 335.8L1417.8 334.9L1421.6 334.1L1425.3 333.3L1429.0 332.4L1432.8 331.6L1436.5 330.8L1440.2 329.9L1444.0 329.1L1447.7 328.3L1451.4 327.5L1455.2 326.7L1458.9 325.9L1462.6 325.1L1466.4 324.2L1470.1 323.4L1473.9 322.6L1477.6 321.8L1481.3 321.0L1485.1 320.2L1488.8 319.4L1492.5 318.6L1496.3 317.7L1500.0 316.9" stroke="#f5c08a" stroke-width="2.5" fill="none" stroke-linejoin="round"/>
<path d="M1051.8 515.2L1062.0 515.2L1062.3 514.3L1063.1 512.5L1063.8 510.9L1064.6 509.3L1065.3 507.9L1066.1 506.5L1066.8 505.1L1067.6 503.9L1068.3 502.7L1069.1 501.5L1069.8 500.5L1070.5 499.4L1071.3 498.4L1072.0 497.4L1072.8 496.5L1073.5 495.6L1074.2 494.8L1077.9 490.6L1081.7 486.9L1085.4 483.5L1089.1 480.2L1092.9 477.0L1096.6 474.0L1100.4 471.0L1104.1 468.0L1107.8 465.1L1111.6 462.3L1115.3 459.5L1119.0 456.7L1122.8 454.0L1126.5 451.3L1130.2 448.6L1134.0 446.0L1137.7 443.4L1141.4 440.9L1145.2 438.4L1148.9 435.9L1152.6 433.4L1156.4 431.0L1160.1 428.7L1163.8 426.3L1167.6 424.0L1171.3 421.7L1175.1 419.5L1178.8 417.3L1182.5 415.1L1186.3 413.0L1190.0 410.8L1193.7 408.7L1197.5 406.7L1201.2 404.7L1204.9 402.7L1208.7 400.7L1212.4 398.7L1216.1 396.8L1219.9 394.9L1223.6 393.1L1227.3 391.3L1231.1 389.4L1234.8 387.7L1238.5 385.9L1242.3 384.2L1246.0 382.5L1249.8 380.8L1253.5 379.1L1257.2 377.5L1261.0 375.9L1264.7 374.3L1268.4 372.8L1272.2 371.2L1275.9 369.7L1279.6 368.2L1283.4 366.7L1287.1 365.3L1290.8 363.8L1294.6 362.4L1298.3 361.0L1302.0 359.7L1305.8 358.3L1309.5 357.0L1313.2 355.6L1317.0 354.3L1320.7 353.1L1324.5 351.8L1328.2 350.6L1331.9 349.3L1335.7 348.1L1339.4 346.9L1343.1 345.7L1346.9 344.5L1350.6 343.4L1354.3 342.2L1358.1 341.1L1361.8 340.0L1365.5 338.9L1369.3 337.8L1373.0 336.7L1376.7 335.7L1380.5 334.6L1384.2 333.6L1387.9 332.6L1391.7 331.5L1395.4 330.5L1399.2 329.5L1402.9 328.5L1406.6 327.5L1410.4 326.6L1414.1 325.6L1417.8 324.6L1421.6 323.7L1425.3 322.8L1429.0 321.8L1432.8 320.9L1436.5 320.0L1440.2 319.0L1444.0 318.1L1447.7 317.2L1451.4 316.3L1455.2 315.4L1458.9 314.5L1462.6 313.6L1466.4 312.7L1470.1 311.9L1473.9 311.0L1477.6 310.1L1481.3 309.2L1485.1 308.3L1488.8 307.4L1492.5 306.6L1496.3 305.7L1500.0 304.8" stroke="#186018" stroke-width="2.5" fill="none" stroke-linejoin="round"/>
<path d="M1051.8 515.2L1062.0 515.2L1062.3 514.3L1063.1 512.5L1063.8 510.8L1064.6 509.2L1065.3 507.7L1066.1 506.3L1066.8 504.9L1067.6 503.7L1068.3 502.4L1069.1 501.3L1069.8 500.2L1070.5 499.1L1071.3 498.1L1072.0 497.1L1072.8 496.2L1073.5 495.2L1074.2 494.4L1077.9 490.3L1081.7 486.6L1085.4 483.2L1089.1 480.0L1092.9 476.8L1096.6 473.8L1100.4 470.9L1104.1 468.0L1107.8 465.2L1111.6 462.4L1115.3 459.6L1119.0 456.9L1122.8 454.3L1126.5 451.7L1130.2 449.1L1134.0 446.5L1137.7 444.0L1141.4 441.6L1145.2 439.2L1148.9 436.8L1152.6 434.4L1156.4 432.1L1160.1 429.8L1163.8 427.6L1167.6 425.4L1171.3 423.2L1175.1 421.0L1178.8 418.9L1182.5 416.9L1186.3 414.8L1190.0 412.8L1193.7 410.8L1197.5 408.9L1201.2 406.9L1204.9 405.1L1208.7 403.2L1212.4 401.4L1216.1 399.6L1219.9 397.8L1223.6 396.1L1227.3 394.3L1231.1 392.7L1234.8 391.0L1238.5 389.4L1242.3 387.8L1246.0 386.2L1249.8 384.6L1253.5 383.1L1257.2 381.6L1261.0 380.1L1264.7 378.6L1268.4 377.2L1272.2 375.8L1275.9 374.4L1279.6 373.0L1283.4 371.7L1287.1 370.3L1290.8 369.0L1294.6 367.7L1298.3 366.5L1302.0 365.2L1305.8 364.0L1309.5 362.8L1313.2 361.6L1317.0 360.4L1320.7 359.3L1324.5 358.1L1328.2 357.0L1331.9 355.9L1335.7 354.8L1339.4 353.7L1343.1 352.7L1346.9 351.6L1350.6 350.6L1354.3 349.6L1358.1 348.6L1361.8 347.6L1365.5 346.6L1369.3 345.6L1373.0 344.7L1376.7 343.7L1380.5 342.8L1384.2 341.8L1387.9 340.9L1391.7 340.0L1395.4 339.1L1399.2 338.2L1402.9 337.3L1406.6 336.5L1410.4 335.6L1414.1 334.7L1417.8 333.9L1421.6 333.0L1425.3 332.2L1429.0 331.3L1432.8 330.5L1436.5 329.7L1440.2 328.8L1444.0 328.0L1447.7 327.2L1451.4 326.4L1455.2 325.5L1458.9 324.7L1462.6 323.9L1466.4 323.1L1470.1 322.3L1473.9 321.5L1477.6 320.7L1481.3 319.8L1485.1 319.0L1488.8 318.2L1492.5 317.4L1496.3 316.6L1500.0 315.7" stroke="#b01515" stroke-width="2.5" fill="none" stroke-linejoin="round"/>
<path d="M1051.8 515.2L1062.0 515.2L1062.3 514.3L1063.1 512.5L1063.8 510.8L1064.6 509.2L1065.3 507.7L1066.1 506.3L1066.8 505.0L1067.6 503.7L1068.3 502.5L1069.1 501.4L1069.8 500.3L1070.5 499.2L1071.3 498.2L1072.0 497.2L1072.8 496.3L1073.5 495.4L1074.2 494.6L1077.9 490.5L1081.7 486.8L1085.4 483.4L1089.1 480.2L1092.9 477.1L1096.6 474.1L1100.4 471.1L1104.1 468.3L1107.8 465.5L1111.6 462.7L1115.3 460.0L1119.0 457.3L1122.8 454.6L1126.5 452.0L1130.2 449.5L1134.0 447.0L1137.7 444.5L1141.4 442.0L1145.2 439.6L1148.9 437.2L1152.6 434.9L1156.4 432.6L1160.1 430.3L1163.8 428.1L1167.6 425.9L1171.3 423.7L1175.1 421.6L1178.8 419.5L1182.5 417.4L1186.3 415.4L1190.0 413.4L1193.7 411.4L1197.5 409.5L1201.2 407.6L1204.9 405.7L1208.7 403.9L1212.4 402.1L1216.1 400.3L1219.9 398.5L1223.6 396.8L1227.3 395.1L1231.1 393.4L1234.8 391.7L1238.5 390.1L1242.3 388.5L1246.0 386.9L1249.8 385.4L1253.5 383.9L1257.2 382.4L1261.0 380.9L1264.7 379.4L1268.4 378.0L1272.2 376.6L1275.9 375.2L1279.6 373.9L1283.4 372.5L1287.1 371.2L1290.8 369.9L1294.6 368.6L1298.3 367.4L1302.0 366.1L1305.8 364.9L1309.5 363.7L1313.2 362.5L1317.0 361.4L1320.7 360.2L1324.5 359.1L1328.2 358.0L1331.9 356.9L1335.7 355.8L1339.4 354.7L1343.1 353.6L1346.9 352.6L1350.6 351.6L1354.3 350.6L1358.1 349.6L1361.8 348.6L1365.5 347.6L1369.3 346.6L1373.0 345.7L1376.7 344.7L1380.5 343.8L1384.2 342.9L1387.9 342.0L1391.7 341.1L1395.4 340.2L1399.2 339.3L1402.9 338.4L1406.6 337.5L1410.4 336.7L1414.1 335.8L1417.8 334.9L1421.6 334.1L1425.3 333.3L1429.0 332.4L1432.8 331.6L1436.5 330.8L1440.2 329.9L1444.0 329.1L1447.7 328.3L1451.4 327.5L1455.2 326.7L1458.9 325.9L1462.6 325.1L1466.4 324.2L1470.1 323.4L1473.9 322.6L1477.6 321.8L1481.3 321.0L1485.1 320.2L1488.8 319.4L1492.5 318.6L1496.3 317.7L1500.0 316.9" stroke="#701870" stroke-width="2.5" fill="none" stroke-linejoin="round"/>
<path d="M1051.8 515.2L1062.0 515.2L1062.3 514.3L1063.1 512.5L1063.8 510.8L1064.6 509.2L1065.3 507.7L1066.1 506.3L1066.8 505.0L1067.6 503.7L1068.3 502.5L1069.1 501.4L1069.8 500.3L1070.5 499.2L1071.3 498.2L1072.0 497.2L1072.8 496.3L1073.5 495.4L1074.2 494.6L1077.9 490.5L1081.7 486.8L1085.4 483.4L1089.1 480.2L1092.9 477.1L1096.6 474.1L1100.4 471.1L1104.1 468.3L1107.8 465.5L1111.6 462.7L1115.3 460.0L1119.0 457.3L1122.8 454.6L1126.5 452.0L1130.2 449.5L1134.0 447.0L1137.7 444.5L1141.4 442.0L1145.2 439.6L1148.9 437.2L1152.6 434.9L1156.4 432.6L1160.1 430.3L1163.8 428.1L1167.6 425.9L1171.3 423.7L1175.1 421.6L1178.8 419.5L1182.5 417.4L1186.3 415.4L1190.0 413.4L1193.7 411.4L1197.5 409.5L1201.2 407.6L1204.9 405.7L1208.7 403.9L1212.4 402.1L1216.1 400.3L1219.9 398.5L1223.6 396.8L1227.3 395.1L1231.1 393.4L1234.8 391.7L1238.5 390.1L1242.3 388.5L1246.0 386.9L1249.8 385.4L1253.5 383.9L1257.2 382.4L1261.0 380.9L1264.7 379.4L1268.4 378.0L1272.2 376.6L1275.9 375.2L1279.6 373.9L1283.4 372.5L1287.1 371.2L1290.8 369.9L1294.6 368.6L1298.3 367.4L1302.0 366.1L1305.8 364.9L1309.5 363.7L1313.2 362.5L1317.0 361.4L1320.7 360.2L1324.5 359.1L1328.2 358.0L1331.9 356.9L1335.7 355.8L1339.4 354.7L1343.1 353.6L1346.9 352.6L1350.6 351.6L1354.3 350.6L1358.1 349.6L1361.8 348.6L1365.5 347.6L1369.3 346.6L1373.0 345.7L1376.7 344.7L1380.5 343.8L1384.2 342.9L1387.9 342.0L1391.7 341.1L1395.4 340.2L1399.2 339.3L1402.9 338.4L1406.6 337.5L1410.4 336.7L1414.1 335.8L1417.8 334.9L1421.6 334.1L1425.3 333.3L1429.0 332.4L1432.8 331.6L1436.5 330.8L1440.2 329.9L1444.0 329.1L1447.7 328.3L1451.4 327.5L1455.2 326.7L1458.9 325.9L1462.6 325.1L1466.4 324.2L1470.1 323.4L1473.9 322.6L1477.6 321.8L1481.3 321.0L1485.1 320.2L1488.8 319.4L1492.5 318.6L1496.3 317.7L1500.0 316.9" stroke="#000090" stroke-width="2.5" fill="none" stroke-linejoin="round"/>
<path d="M1051.8 515.2L1062.0 515.2L1062.3 514.4L1063.1 512.9L1063.8 511.5L1064.6 510.1L1065.3 508.9L1066.1 507.7L1066.8 506.5L1067.6 505.5L1068.3 504.4L1069.1 503.5L1069.8 502.5L1070.5 501.6L1071.3 500.7L1072.0 499.9L1072.8 499.1L1073.5 498.3L1074.2 497.7L1077.9 494.2L1081.7 491.0L1085.4 488.1L1089.1 485.3L1092.9 482.6L1096.6 480.1L1100.4 477.5L1104.1 475.0L1107.8 472.6L1111.6 470.2L1115.3 467.8L1119.0 465.5L1122.8 463.2L1126.5 460.9L1130.2 458.7L1134.0 456.4L1137.7 454.3L1141.4 452.1L1145.2 450.0L1148.9 447.9L1152.6 445.8L1156.4 443.8L1160.1 441.8L1163.8 439.8L1167.6 437.9L1171.3 435.9L1175.1 434.0L1178.8 432.2L1182.5 430.3L1186.3 428.5L1190.0 426.7L1193.7 424.9L1197.5 423.2L1201.2 421.5L1204.9 419.8L1208.7 418.1L1212.4 416.5L1216.1 414.8L1219.9 413.3L1223.6 411.7L1227.3 410.1L1231.1 408.6L1234.8 407.1L1238.5 405.6L1242.3 404.2L1246.0 402.7L1249.8 401.3L1253.5 399.9L1257.2 398.5L1261.0 397.2L1264.7 395.8L1268.4 394.5L1272.2 393.2L1275.9 392.0L1279.6 390.7L1283.4 389.5L1287.1 388.3L1290.8 387.1L1294.6 385.9L1298.3 384.7L1302.0 383.6L1305.8 382.4L1309.5 381.3L1313.2 380.2L1317.0 379.2L1320.7 378.1L1324.5 377.0L1328.2 376.0L1331.9 375.0L1335.7 374.0L1339.4 373.0L1343.1 372.0L1346.9 371.1L1350.6 370.1L1354.3 369.2L1358.1 368.3L1361.8 367.4L1365.5 366.5L1369.3 365.6L1373.0 364.7L1376.7 363.9L1380.5 363.0L1384.2 362.2L1387.9 361.4L1391.7 360.6L1395.4 359.8L1399.2 359.0L1402.9 358.2L1406.6 357.4L1410.4 356.7L1414.1 355.9L1417.8 355.2L1421.6 354.5L1425.3 353.7L1429.0 353.0L1432.8 352.3L1436.5 351.6L1440.2 350.9L1444.0 350.2L1447.7 349.5L1451.4 348.8L1455.2 348.2L1458.9 347.5L1462.6 346.9L1466.4 346.2L1470.1 345.5L1473.9 344.9L1477.6 344.3L1481.3 343.6L1485.1 343.0L1488.8 342.4L1492.5 341.7L1496.3 341.1L1500.0 340.5" stroke="#a2713a" stroke-width="2.5" fill="none" stroke-linejoin="round"/>
<path d="M1051.8 515.2L1062.0 515.2L1062.3 514.6L1063.1 513.5L1063.8 512.4L1064.6 511.4L1065.3 510.5L1066.1 509.6L1066.8 508.7L1067.6 507.9L1068.3 507.1L1069.1 506.4L1069.8 505.7L1070.5 505.0L1071.3 504.3L1072.0 503.6L1072.8 503.0L1073.5 502.4L1074.2 501.9L1077.9 499.1L1081.7 496.6L1085.4 494.2L1089.1 492.0L1092.9 489.8L1096.6 487.7L1100.4 485.6L1104.1 483.5L1107.8 481.5L1111.6 479.5L1115.3 477.5L1119.0 475.6L1122.8 473.7L1126.5 471.8L1130.2 469.9L1134.0 468.0L1137.7 466.2L1141.4 464.3L1145.2 462.5L1148.9 460.8L1152.6 459.0L1156.4 457.3L1160.1 455.5L1163.8 453.8L1167.6 452.2L1171.3 450.5L1175.1 448.9L1178.8 447.2L1182.5 445.6L1186.3 444.0L1190.0 442.5L1193.7 440.9L1197.5 439.4L1201.2 437.9L1204.9 436.4L1208.7 434.9L1212.4 433.5L1216.1 432.0L1219.9 430.6L1223.6 429.2L1227.3 427.8L1231.1 426.5L1234.8 425.1L1238.5 423.8L1242.3 422.5L1246.0 421.2L1249.8 419.9L1253.5 418.6L1257.2 417.4L1261.0 416.1L1264.7 414.9L1268.4 413.7L1272.2 412.5L1275.9 411.4L1279.6 410.2L1283.4 409.1L1287.1 408.0L1290.8 406.8L1294.6 405.7L1298.3 404.7L1302.0 403.6L1305.8 402.6L1309.5 401.5L1313.2 400.5L1317.0 399.5L1320.7 398.5L1324.5 397.5L1328.2 396.5L1331.9 395.6L1335.7 394.6L1339.4 393.7L1343.1 392.8L1346.9 391.9L1350.6 391.0L1354.3 390.1L1358.1 389.3L1361.8 388.4L1365.5 387.6L1369.3 386.7L1373.0 385.9L1376.7 385.1L1380.5 384.3L1384.2 383.5L1387.9 382.8L1391.7 382.0L1395.4 381.2L1399.2 380.5L1402.9 379.8L1406.6 379.0L1410.4 378.3L1414.1 377.6L1417.8 376.9L1421.6 376.3L1425.3 375.6L1429.0 374.9L1432.8 374.3L1436.5 373.6L1440.2 373.0L1444.0 372.4L1447.7 371.8L1451.4 371.2L1455.2 370.6L1458.9 370.0L1462.6 369.4L1466.4 368.8L1470.1 368.3L1473.9 367.7L1477.6 367.1L1481.3 366.6L1485.1 366.1L1488.8 365.5L1492.5 365.0L1496.3 364.5L1500.0 364.0" stroke="#000000" stroke-width="2.5" fill="none" stroke-linejoin="round"/>
<path d="M1051.8 515.2L1062.0 515.2L1062.3 515.0L1063.1 514.6L1063.8 514.2L1064.6 513.8L1065.3 513.5L1066.1 513.1L1066.8 512.8L1067.6 512.5L1068.3 512.1L1069.1 511.8L1069.8 511.5L1070.5 511.2L1071.3 510.9L1072.0 510.6L1072.8 510.4L1073.5 510.1L1074.2 509.8L1077.9 508.5L1081.7 507.2L1085.4 506.0L1089.1 504.8L1092.9 503.6L1096.6 502.4L1100.4 501.3L1104.1 500.2L1107.8 499.0L1111.6 497.9L1115.3 496.8L1119.0 495.7L1122.8 494.6L1126.5 493.6L1130.2 492.5L1134.0 491.4L1137.7 490.4L1141.4 489.3L1145.2 488.3L1148.9 487.3L1152.6 486.3L1156.4 485.3L1160.1 484.3L1163.8 483.3L1167.6 482.4L1171.3 481.4L1175.1 480.4L1178.8 479.5L1182.5 478.6L1186.3 477.6L1190.0 476.7L1193.7 475.8L1197.5 474.9L1201.2 474.0L1204.9 473.1L1208.7 472.3L1212.4 471.4L1216.1 470.5L1219.9 469.7L1223.6 468.9L1227.3 468.0L1231.1 467.2L1234.8 466.4L1238.5 465.6L1242.3 464.8L1246.0 464.0L1249.8 463.2L1253.5 462.4L1257.2 461.7L1261.0 460.9L1264.7 460.2L1268.4 459.4L1272.2 458.7L1275.9 458.0L1279.6 457.3L1283.4 456.5L1287.1 455.8L1290.8 455.2L1294.6 454.5L1298.3 453.8L1302.0 453.1L1305.8 452.5L1309.5 451.8L1313.2 451.2L1317.0 450.5L1320.7 449.9L1324.5 449.3L1328.2 448.6L1331.9 448.0L1335.7 447.4L1339.4 446.8L1343.1 446.2L1346.9 445.7L1350.6 445.1L1354.3 444.5L1358.1 444.0L1361.8 443.4L1365.5 442.9L1369.3 442.3L1373.0 441.8L1376.7 441.3L1380.5 440.7L1384.2 440.2L1387.9 439.7L1391.7 439.2L1395.4 438.7L1399.2 438.2L1402.9 437.8L1406.6 437.3L1410.4 436.8L1414.1 436.3L1417.8 435.9L1421.6 435.4L1425.3 435.0L1429.0 434.6L1432.8 434.1L1436.5 433.7L1440.2 433.3L1444.0 432.9L1447.7 432.5L1451.4 432.1L1455.2 431.7L1458.9 431.3L1462.6 430.9L1466.4 430.5L1470.1 430.2L1473.9 429.8L1477.6 429.4L1481.3 429.1L1485.1 428.7L1488.8 428.4L1492.5 428.0L1496.3 427.7L1500.0 427.4" stroke="#ff8000" stroke-width="2.5" fill="none" stroke-linejoin="round"/>
<path d="M1051.8 515.2L1062.0 515.2L1062.3 515.1L1063.1 514.8L1063.8 514.5L1064.6 514.3L1065.3 514.1L1066.1 513.9L1066.8 513.7L1067.6 513.5L1068.3 513.4L1069.1 513.2L1069.8 513.1L1070.5 512.9L1071.3 512.8L1072.0 512.7L1072.8 512.5L1073.5 512.4L1074.2 512.3L1077.9 511.8L1081.7 511.4L1085.4 511.0L1089.1 510.6L1092.9 510.3L1096.6 510.0L1100.4 509.6L1104.1 509.3L1107.8 509.0L1111.6 508.7L1115.3 508.3L1119.0 508.0L1122.8 507.7L1126.5 507.4L1130.2 507.1L1134.0 506.8L1137.7 506.4L1141.4 506.1L1145.2 505.8L1148.9 505.5L1152.6 505.2L1156.4 504.9L1160.1 504.6L1163.8 504.3L1167.6 504.0L1171.3 503.7L1175.1 503.4L1178.8 503.1L1182.5 502.8L1186.3 502.5L1190.0 502.2L1193.7 501.9L1197.5 501.6L1201.2 501.3L1204.9 501.0L1208.7 500.7L1212.4 500.4L1216.1 500.1L1219.9 499.8L1223.6 499.5L1227.3 499.2L1231.1 498.9L1234.8 498.6L1238.5 498.3L1242.3 498.0L1246.0 497.7L1249.8 497.5L1253.5 497.2L1257.2 496.9L1261.0 496.6L1264.7 496.3L1268.4 496.0L1272.2 495.8L1275.9 495.5L1279.6 495.2L1283.4 494.9L1287.1 494.6L1290.8 494.4L1294.6 494.1L1298.3 493.8L1302.0 493.5L1305.8 493.3L1309.5 493.0L1313.2 492.7L1317.0 492.4L1320.7 492.2L1324.5 491.9L1328.2 491.6L1331.9 491.4L1335.7 491.1L1339.4 490.8L1343.1 490.6L1346.9 490.3L1350.6 490.0L1354.3 489.8L1358.1 489.5L1361.8 489.3L1365.5 489.0L1369.3 488.7L1373.0 488.5L1376.7 488.2L1380.5 488.0L1384.2 487.7L1387.9 487.5L1391.7 487.2L1395.4 487.0L1399.2 486.7L1402.9 486.5L1406.6 486.2L1410.4 486.0L1414.1 485.7L1417.8 485.5L1421.6 485.2L1425.3 485.0L1429.0 484.7L1432.8 484.5L1436.5 484.2L1440.2 484.0L1444.0 483.7L1447.7 483.5L1451.4 483.3L1455.2 483.0L1458.9 482.8L1462.6 482.6L1466.4 482.3L1470.1 482.1L1473.9 481.8L1477.6 481.6L1481.3 481.4L1485.1 481.1L1488.8 480.9L1492.5 480.7L1496.3 480.5L1500.0 480.2" stroke="#a820e8" stroke-width="2.5" fill="none" stroke-linejoin="round"/>
<path d="M1051.8 515.2L1062.0 515.2L1062.3 515.2L1063.1 515.1L1063.8 515.1L1064.6 515.1L1065.3 515.0L1066.1 515.0L1066.8 515.0L1067.6 514.9L1068.3 514.9L1069.1 514.9L1069.8 514.8L1070.5 514.8L1071.3 514.8L1072.0 514.8L1072.8 514.7L1073.5 514.7L1074.2 514.7L1077.9 514.6L1081.7 514.4L1085.4 514.3L1089.1 514.2L1092.9 514.1L1096.6 514.0L1100.4 513.9L1104.1 513.7L1107.8 513.6L1111.6 513.5L1115.3 513.4L1119.0 513.3L1122.8 513.2L1126.5 513.1L1130.2 513.0L1134.0 512.9L1137.7 512.8L1141.4 512.6L1145.2 512.5L1148.9 512.4L1152.6 512.3L1156.4 512.2L1160.1 512.1L1163.8 512.0L1167.6 511.9L1171.3 511.8L1175.1 511.7L1178.8 511.6L1182.5 511.5L1186.3 511.3L1190.0 511.2L1193.7 511.1L1197.5 511.0L1201.2 510.9L1204.9 510.8L1208.7 510.7L1212.4 510.6L1216.1 510.5L1219.9 510.4L1223.6 510.3L1227.3 510.2L1231.1 510.1L1234.8 510.0L1238.5 509.9L1242.3 509.8L1246.0 509.7L1249.8 509.6L1253.5 509.5L1257.2 509.4L1261.0 509.3L1264.7 509.2L1268.4 509.1L1272.2 509.0L1275.9 508.9L1279.6 508.8L1283.4 508.7L1287.1 508.6L1290.8 508.5L1294.6 508.3L1298.3 508.2L1302.0 508.1L1305.8 508.0L1309.5 508.0L1313.2 507.9L1317.0 507.8L1320.7 507.7L1324.5 507.6L1328.2 507.5L1331.9 507.4L1335.7 507.3L1339.4 507.2L1343.1 507.1L1346.9 507.0L1350.6 506.9L1354.3 506.8L1358.1 506.7L1361.8 506.6L1365.5 506.5L1369.3 506.4L1373.0 506.3L1376.7 506.2L1380.5 506.1L1384.2 506.0L1387.9 505.9L1391.7 505.8L1395.4 505.7L1399.2 505.6L1402.9 505.5L1406.6 505.4L1410.4 505.3L1414.1 505.2L1417.8 505.2L1421.6 505.1L1425.3 505.0L1429.0 504.9L1432.8 504.8L1436.5 504.7L1440.2 504.6L1444.0 504.5L1447.7 504.4L1451.4 504.3L1455.2 504.2L1458.9 504.1L1462.6 504.1L1466.4 504.0L1470.1 503.9L1473.9 503.8L1477.6 503.7L1481.3 503.6L1485.1 503.5L1488.8 503.4L1492.5 503.3L1496.3 503.2L1500.0 503.2" stroke="#10b810" stroke-width="2.5" fill="none" stroke-linejoin="round"/>
<path d="M1051.8 515.2L1062.0 515.2L1062.3 515.2L1063.1 515.2L1063.8 515.2L1064.6 515.1L1065.3 515.1L1066.1 515.1L1066.8 515.1L1067.6 515.1L1068.3 515.1L1069.1 515.1L1069.8 515.1L1070.5 515.0L1071.3 515.0L1072.0 515.0L1072.8 515.0L1073.5 515.0L1074.2 515.0L1077.9 514.9L1081.7 514.9L1085.4 514.9L1089.1 514.8L1092.9 514.8L1096.6 514.7L1100.4 514.7L1104.1 514.6L1107.8 514.6L1111.6 514.5L1115.3 514.5L1119.0 514.5L1122.8 514.4L1126.5 514.4L1130.2 514.3L1134.0 514.3L1137.7 514.2L1141.4 514.2L1145.2 514.2L1148.9 514.1L1152.6 514.1L1156.4 514.0L1160.1 514.0L1163.8 513.9L1167.6 513.9L1171.3 513.9L1175.1 513.8L1178.8 513.8L1182.5 513.7L1186.3 513.7L1190.0 513.6L1193.7 513.6L1197.5 513.6L1201.2 513.5L1204.9 513.5L1208.7 513.4L1212.4 513.4L1216.1 513.4L1219.9 513.3L1223.6 513.3L1227.3 513.2L1231.1 513.2L1234.8 513.1L1238.5 513.1L1242.3 513.1L1246.0 513.0L1249.8 513.0L1253.5 512.9L1257.2 512.9L1261.0 512.9L1264.7 512.8L1268.4 512.8L1272.2 512.7L1275.9 512.7L1279.6 512.6L1283.4 512.6L1287.1 512.6L1290.8 512.5L1294.6 512.5L1298.3 512.4L1302.0 512.4L1305.8 512.4L1309.5 512.3L1313.2 512.3L1317.0 512.2L1320.7 512.2L1324.5 512.2L1328.2 512.1L1331.9 512.1L1335.7 512.0L1339.4 512.0L1343.1 511.9L1346.9 511.9L1350.6 511.9L1354.3 511.8L1358.1 511.8L1361.8 511.7L1365.5 511.7L1369.3 511.7L1373.0 511.6L1376.7 511.6L1380.5 511.5L1384.2 511.5L1387.9 511.5L1391.7 511.4L1395.4 511.4L1399.2 511.3L1402.9 511.3L1406.6 511.3L1410.4 511.2L1414.1 511.2L1417.8 511.1L1421.6 511.1L1425.3 511.1L1429.0 511.0L1432.8 511.0L1436.5 510.9L1440.2 510.9L1444.0 510.9L1447.7 510.8L1451.4 510.8L1455.2 510.8L1458.9 510.7L1462.6 510.7L1466.4 510.6L1470.1 510.6L1473.9 510.6L1477.6 510.5L1481.3 510.5L1485.1 510.4L1488.8 510.4L1492.5 510.4L1496.3 510.3L1500.0 510.3" stroke="#f01010" stroke-width="2.5" fill="none" stroke-linejoin="round"/>
<path d="M1051.8 515.2L1062.0 515.2L1062.3 515.2L1063.1 515.2L1063.8 515.2L1064.6 515.2L1065.3 515.2L1066.1 515.2L1066.8 515.2L1067.6 515.2L1068.3 515.2L1069.1 515.2L1069.8 515.2L1070.5 515.2L1071.3 515.2L1072.0 515.2L1072.8 515.2L1073.5 515.2L1074.2 515.2L1077.9 515.2L1081.7 515.2L1085.4 515.2L1089.1 515.2L1092.9 515.2L1096.6 515.2L1100.4 515.1L1104.1 515.1L1107.8 515.1L1111.6 515.1L1115.3 515.1L1119.0 515.1L1122.8 515.1L1126.5 515.0L1130.2 515.0L1134.0 515.0L1137.7 515.0L1141.4 515.0L1145.2 515.0L1148.9 514.9L1152.6 514.9L1156.4 514.9L1160.1 514.9L1163.8 514.9L1167.6 514.9L1171.3 514.9L1175.1 514.8L1178.8 514.8L1182.5 514.8L1186.3 514.8L1190.0 514.8L1193.7 514.8L1197.5 514.7L1201.2 514.7L1204.9 514.7L1208.7 514.7L1212.4 514.7L1216.1 514.7L1219.9 514.6L1223.6 514.6L1227.3 514.6L1231.1 514.6L1234.8 514.6L1238.5 514.6L1242.3 514.6L1246.0 514.5L1249.8 514.5L1253.5 514.5L1257.2 514.5L1261.0 514.5L1264.7 514.5L1268.4 514.4L1272.2 514.4L1275.9 514.4L1279.6 514.4L1283.4 514.4L1287.1 514.4L1290.8 514.4L1294.6 514.3L1298.3 514.3L1302.0 514.3L1305.8 514.3L1309.5 514.3L1313.2 514.3L1317.0 514.2L1320.7 514.2L1324.5 514.2L1328.2 514.2L1331.9 514.2L1335.7 514.2L1339.4 514.2L1343.1 514.1L1346.9 514.1L1350.6 514.1L1354.3 514.1L1358.1 514.1L1361.8 514.1L1365.5 514.0L1369.3 514.0L1373.0 514.0L1376.7 514.0L1380.5 514.0L1384.2 514.0L1387.9 514.0L1391.7 513.9L1395.4 513.9L1399.2 513.9L1402.9 513.9L1406.6 513.9L1410.4 513.9L1414.1 513.8L1417.8 513.8L1421.6 513.8L1425.3 513.8L1429.0 513.8L1432.8 513.8L1436.5 513.8L1440.2 513.7L1444.0 513.7L1447.7 513.7L1451.4 513.7L1455.2 513.7L1458.9 513.7L1462.6 513.6L1466.4 513.6L1470.1 513.6L1473.9 513.6L1477.6 513.6L1481.3 513.6L1485.1 513.6L1488.8 513.5L1492.5 513.5L1496.3 513.5L1500.0 513.5" stroke="#0000ff" stroke-width="2.5" fill="none" stroke-linejoin="round"/>
<path d="M1051.8 220.0V532.0" stroke="#000" stroke-width="2.6" fill="none"/>
<path d="M1051.8 520.0H1501.2" stroke="#000" stroke-width="2.5" fill="none"/>
<path d="M1039.5 515.2H1051.8" stroke="#000" stroke-width="2.5"/>
<text transform="translate(1036.30 523.50) scale(1.050 1)" font-size="23.20" font-weight="bold" text-anchor="end" fill="#000">1</text>
<path d="M1039.5 466.2H1051.8" stroke="#000" stroke-width="2.5"/>
<text transform="translate(1036.30 474.50) scale(1.050 1)" font-size="23.20" font-weight="bold" text-anchor="end" fill="#000">2</text>
<path d="M1039.5 417.2H1051.8" stroke="#000" stroke-width="2.5"/>
<text transform="translate(1036.30 425.50) scale(1.050 1)" font-size="23.20" font-weight="bold" text-anchor="end" fill="#000">3</text>
<path d="M1039.5 368.2H1051.8" stroke="#000" stroke-width="2.5"/>
<text transform="translate(1036.30 376.50) scale(1.050 1)" font-size="23.20" font-weight="bold" text-anchor="end" fill="#000">4</text>
<path d="M1039.5 319.2H1051.8" stroke="#000" stroke-width="2.5"/>
<text transform="translate(1036.30 327.50) scale(1.050 1)" font-size="23.20" font-weight="bold" text-anchor="end" fill="#000">5</text>
<path d="M1039.5 270.2H1051.8" stroke="#000" stroke-width="2.5"/>
<text transform="translate(1036.30 278.50) scale(1.050 1)" font-size="23.20" font-weight="bold" text-anchor="end" fill="#000">6</text>
<path d="M1039.5 221.2H1051.8" stroke="#000" stroke-width="2.5"/>
<text transform="translate(1036.30 229.50) scale(1.050 1)" font-size="23.20" font-weight="bold" text-anchor="end" fill="#000">7</text>
<path d="M1051.8 520.0V532.0" stroke="#000" stroke-width="2.5"/>
<text transform="translate(1051.80 557.60) scale(1.080 1)" font-size="21.60" font-weight="bold" text-anchor="middle" fill="#000">0</text>
<path d="M1089.1 520.0V532.0" stroke="#000" stroke-width="2.5"/>
<text transform="translate(1089.15 557.60) scale(1.080 1)" font-size="21.60" font-weight="bold" text-anchor="middle" fill="#000">5</text>
<path d="M1126.5 520.0V532.0" stroke="#000" stroke-width="2.5"/>
<text transform="translate(1126.50 557.60) scale(1.080 1)" font-size="21.60" font-weight="bold" text-anchor="middle" fill="#000">10</text>
<path d="M1163.8 520.0V532.0" stroke="#000" stroke-width="2.5"/>
<text transform="translate(1163.85 557.60) scale(1.080 1)" font-size="21.60" font-weight="bold" text-anchor="middle" fill="#000">15</text>
<path d="M1201.2 520.0V532.0" stroke="#000" stroke-width="2.5"/>
<text transform="translate(1201.20 557.60) scale(1.080 1)" font-size="21.60" font-weight="bold" text-anchor="middle" fill="#000">20</text>
<path d="M1238.5 520.0V532.0" stroke="#000" stroke-width="2.5"/>
<text transform="translate(1238.55 557.60) scale(1.080 1)" font-size="21.60" font-weight="bold" text-anchor="middle" fill="#000">25</text>
<path d="M1275.9 520.0V532.0" stroke="#000" stroke-width="2.5"/>
<text transform="translate(1275.90 557.60) scale(1.080 1)" font-size="21.60" font-weight="bold" text-anchor="middle" fill="#000">30</text>
<path d="M1313.2 520.0V532.0" stroke="#000" stroke-width="2.5"/>
<text transform="translate(1313.25 557.60) scale(1.080 1)" font-size="21.60" font-weight="bold" text-anchor="middle" fill="#000">35</text>
<path d="M1350.6 520.0V532.0" stroke="#000" stroke-width="2.5"/>
<text transform="translate(1350.60 557.60) scale(1.080 1)" font-size="21.60" font-weight="bold" text-anchor="middle" fill="#000">40</text>
<path d="M1387.9 520.0V532.0" stroke="#000" stroke-width="2.5"/>
<text transform="translate(1387.95 557.60) scale(1.080 1)" font-size="21.60" font-weight="bold" text-anchor="middle" fill="#000">45</text>
<path d="M1425.3 520.0V532.0" stroke="#000" stroke-width="2.5"/>
<text transform="translate(1425.30 557.60) scale(1.080 1)" font-size="21.60" font-weight="bold" text-anchor="middle" fill="#000">50</text>
<path d="M1462.6 520.0V532.0" stroke="#000" stroke-width="2.5"/>
<text transform="translate(1462.65 557.60) scale(1.080 1)" font-size="21.60" font-weight="bold" text-anchor="middle" fill="#000">55</text>
<path d="M1500.0 520.0V532.0" stroke="#000" stroke-width="2.5"/>
<text transform="translate(1500.00 557.60) scale(1.080 1)" font-size="21.60" font-weight="bold" text-anchor="middle" fill="#000">60</text>
<text transform="translate(1276.40 593.70) scale(1.115 1)" font-size="22.30" font-weight="bold" text-anchor="middle" fill="#000">Time (m)</text>
<text transform="translate(1005.4 393.6) rotate(-90)" font-size="24.5" font-weight="bold" fill="#000">F/F<tspan font-size="17" dy="4.8">0</tspan></text>
<text x="1270.8" y="218.4" font-size="32.5" font-weight="bold" text-anchor="middle" textLength="371.0" lengthAdjust="spacingAndGlyphs" fill="#000">HEK293T NET Polyclonal</text>
<text x="1562.5" y="210.4" font-size="23" font-weight="bold" textLength="203.0" lengthAdjust="spacingAndGlyphs" fill="#000">[Nisoxetine] (nM)</text>
<path d="M1568.7 241.0H1600.5" stroke="#0000ff" stroke-width="2.7"/>
<text transform="translate(1618.00 249.50) scale(1.080 1)" font-size="23.70" font-weight="normal" text-anchor="start" fill="#000">1000</text>
<path d="M1699.1 241.5H1730.7" stroke="#000090" stroke-width="2.7"/>
<text transform="translate(1748.30 249.50) scale(1.080 1)" font-size="23.70" font-weight="normal" text-anchor="start" fill="#000">0.457</text>
<path d="M1568.7 280.8H1600.5" stroke="#f01010" stroke-width="2.7"/>
<text transform="translate(1618.00 289.33) scale(1.080 1)" font-size="23.70" font-weight="normal" text-anchor="start" fill="#000">333.3</text>
<path d="M1699.1 281.3H1730.7" stroke="#701870" stroke-width="2.7"/>
<text transform="translate(1748.30 289.33) scale(1.080 1)" font-size="23.70" font-weight="normal" text-anchor="start" fill="#000">0.152</text>
<path d="M1568.7 320.7H1600.5" stroke="#10b810" stroke-width="2.7"/>
<text transform="translate(1618.00 329.16) scale(1.080 1)" font-size="23.70" font-weight="normal" text-anchor="start" fill="#000">111.1</text>
<path d="M1699.1 321.2H1730.7" stroke="#b01515" stroke-width="2.7"/>
<text transform="translate(1748.30 329.16) scale(1.080 1)" font-size="23.70" font-weight="normal" text-anchor="start" fill="#000">0.051</text>
<path d="M1568.7 360.5H1600.5" stroke="#a820e8" stroke-width="2.7"/>
<text transform="translate(1618.00 368.99) scale(1.080 1)" font-size="23.70" font-weight="normal" text-anchor="start" fill="#000">37.04</text>
<path d="M1699.1 361.0H1730.7" stroke="#186018" stroke-width="2.7"/>
<text transform="translate(1748.30 368.99) scale(1.080 1)" font-size="23.70" font-weight="normal" text-anchor="start" fill="#000">0.017</text>
<path d="M1568.7 400.3H1600.5" stroke="#ff8000" stroke-width="2.7"/>
<text transform="translate(1618.00 408.82) scale(1.080 1)" font-size="23.70" font-weight="normal" text-anchor="start" fill="#000">12.35</text>
<path d="M1699.1 400.8H1730.7" stroke="#f5c08a" stroke-width="2.7"/>
<text transform="translate(1748.30 408.82) scale(1.080 1)" font-size="23.70" font-weight="normal" text-anchor="start" fill="#000">0.006</text>
<path d="M1568.7 440.1H1600.5" stroke="#000000" stroke-width="2.7"/>
<text transform="translate(1618.00 448.65) scale(1.080 1)" font-size="23.70" font-weight="normal" text-anchor="start" fill="#000">4.115</text>
<path d="M1699.1 440.6H1730.7" stroke="#33f033" stroke-width="2.7"/>
<text transform="translate(1748.30 448.65) scale(1.080 1)" font-size="23.70" font-weight="normal" text-anchor="start" fill="#000">0.002</text>
<path d="M1568.7 480.0H1600.5" stroke="#a2713a" stroke-width="2.7"/>
<text transform="translate(1618.00 488.48) scale(1.080 1)" font-size="23.70" font-weight="normal" text-anchor="start" fill="#000">1.372</text>
<path d="M1699.1 480.5H1730.7" stroke="#99c8f5" stroke-width="2.7"/>
<text transform="translate(1748.30 488.48) scale(1.080 1)" font-size="23.70" font-weight="normal" text-anchor="start" fill="#000">0.000</text>
</svg>
<div id="cap"></div><div id="cap2"></div>
<span class="cw" style="left:28.51px;top:698.54px;transform:scaleX(1.0594)">Neurotransmitter</span>
<span class="cw" style="left:280.81px;top:698.54px;transform:scaleX(0.9923)">Transporter</span>
<span class="cw" style="left:447.49px;top:698.54px;transform:scaleX(1.0069)">Uptake</span>
<span class="cw" style="left:554.15px;top:698.54px;transform:scaleX(0.9042)">Assay</span>
<span class="cw" style="left:638.14px;top:698.54px;transform:scaleX(1.0340)">kinetic</span>
<span class="cw" style="left:736.75px;top:698.54px;transform:scaleX(0.9565)">traces,</span>
<span class="cw" style="left:833.53px;top:698.54px;transform:scaleX(1.0044)">show</span>
<span class="cw" style="left:914.04px;top:698.54px;transform:scaleX(0.9544)">clear,</span>
<span class="cw" style="left:994.16px;top:698.54px;transform:scaleX(1.0171)">concentration-dependent</span>
<span class="cw" style="left:1350.57px;top:698.54px;transform:scaleX(1.0737)">inhibition</span>
<span class="cw" style="left:1489.55px;top:698.54px;transform:scaleX(1.0609)">with</span>
<span class="cw" style="left:1555.62px;top:698.54px;transform:scaleX(1.0181)">the</span>
<span class="cw" style="left:1607.12px;top:698.54px;transform:scaleX(1.0445)">appropriate</span>
<span class="cw" style="left:29.13px;top:743.14px;transform:scaleX(1.0076)">reference</span>
<span class="cw" style="left:168.83px;top:743.14px;transform:scaleX(0.9675)">compounds—GBR-12909</span>
<span class="cw" style="left:520.01px;top:743.14px;transform:scaleX(1.1056)">for</span>
<span class="cw" style="left:568.00px;top:743.14px;transform:scaleX(0.8639)">DAT</span>
<span class="cw" style="left:629.60px;top:743.14px;transform:scaleX(0.8828)">(SLC6A3)</span>
<span class="cw" style="left:757.69px;top:743.14px;transform:scaleX(0.9973)">and</span>
<span class="cw" style="left:816.90px;top:743.14px;transform:scaleX(1.0183)">nisoxetine</span>
<span class="cw" style="left:966.74px;top:743.14px;transform:scaleX(1.0431)">for</span>
<span class="cw" style="left:1012.47px;top:743.14px;transform:scaleX(0.8775)">NET</span>
<span class="cw" style="left:1074.76px;top:743.14px;transform:scaleX(0.9555)">(SLC6A2)—confirming</span>
<span class="cw" style="left:1378.70px;top:743.14px;transform:scaleX(1.0689)">robust</span>
<span class="cw" style="left:1478.55px;top:743.14px;transform:scaleX(1.0248)">functional</span>
<span class="cw" style="left:1622.18px;top:743.14px;transform:scaleX(1.0027)">expression</span>
<span class="cw" style="left:1780.16px;top:743.14px;transform:scaleX(1.0205)">and</span>
<span class="cw" style="left:29.98px;top:788.04px;transform:scaleX(0.9272)">assay</span>
<span class="cw" style="left:112.83px;top:788.04px;transform:scaleX(1.0065)">sensitivity.</span>
</body></html>
